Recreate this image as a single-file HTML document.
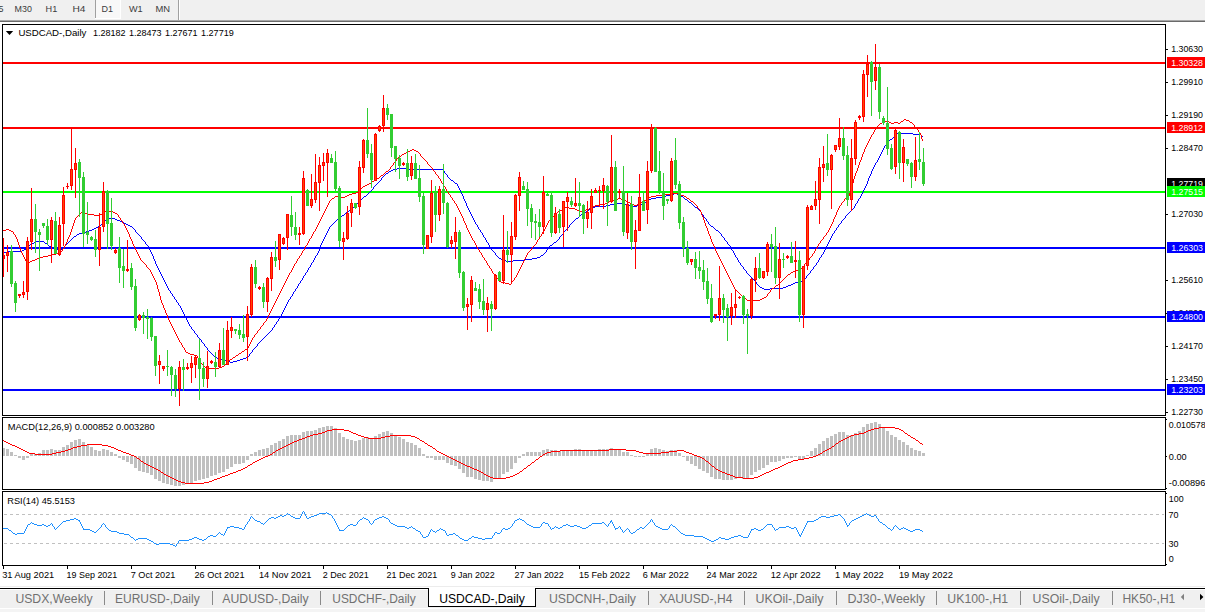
<!DOCTYPE html>
<html lang="en"><head><meta charset="utf-8"><title>USDCAD-,Daily</title>
<style>html,body{margin:0;padding:0;background:#fff}body{width:1205px;height:612px;overflow:hidden}svg{display:block}text{font-family:"Liberation Sans",sans-serif;white-space:pre}</style>
</head><body>
<svg width="1205" height="612" viewBox="0 0 1205 612">
<g shape-rendering="crispEdges">
<rect x="0" y="0" width="1205" height="612" fill="#ffffff"/>
<rect x="0" y="0" width="1205" height="20" fill="#f0f0f0"/>
<rect x="0" y="20" width="1205" height="1" fill="#a8a8a8"/>
<rect x="0" y="21" width="1205" height="1" fill="#6a6a6a"/>
<rect x="96" y="0" width="24" height="18" fill="#f8f8f8"/>
<rect x="95" y="0" width="1" height="18" fill="#a0a0a0"/>
<rect x="120" y="0" width="1" height="19" fill="#ffffff"/>
<rect x="95" y="18" width="26" height="1" fill="#ffffff"/>
<rect x="178" y="0" width="1" height="20" fill="#a0a0a0"/>
<rect x="179" y="0" width="1" height="20" fill="#ffffff"/>
<rect x="2" y="24" width="1164" height="1" fill="#000000"/>
<rect x="2" y="24" width="1" height="542" fill="#000000"/>
<rect x="1165" y="24" width="1" height="542" fill="#000000"/>
<rect x="2" y="415" width="1164" height="1" fill="#000000"/>
<rect x="2" y="417" width="1164" height="1" fill="#000000"/>
<rect x="2" y="489" width="1164" height="1" fill="#000000"/>
<rect x="2" y="491" width="1164" height="1" fill="#000000"/>
<rect x="2" y="565" width="1164" height="1" fill="#000000"/>
<rect x="2" y="416" width="1164" height="1" fill="#ffffff"/>
<rect x="2" y="490" width="1164" height="1" fill="#ffffff"/>
<rect x="3" y="62" width="1162" height="2" fill="#ff0000"/>
<rect x="3" y="127" width="1162" height="2" fill="#ff0000"/>
<rect x="3" y="191" width="1162" height="2" fill="#00ff00"/>
<rect x="3" y="247" width="1162" height="2" fill="#0000ff"/>
<rect x="3" y="316" width="1162" height="2" fill="#0000ff"/>
<rect x="3" y="389" width="1162" height="2" fill="#0000ff"/>
<rect x="4" y="514" width="3" height="1" fill="#c0c0c0"/>
<rect x="10" y="514" width="3" height="1" fill="#c0c0c0"/>
<rect x="16" y="514" width="3" height="1" fill="#c0c0c0"/>
<rect x="22" y="514" width="3" height="1" fill="#c0c0c0"/>
<rect x="28" y="514" width="3" height="1" fill="#c0c0c0"/>
<rect x="34" y="514" width="3" height="1" fill="#c0c0c0"/>
<rect x="40" y="514" width="3" height="1" fill="#c0c0c0"/>
<rect x="46" y="514" width="3" height="1" fill="#c0c0c0"/>
<rect x="52" y="514" width="3" height="1" fill="#c0c0c0"/>
<rect x="58" y="514" width="3" height="1" fill="#c0c0c0"/>
<rect x="64" y="514" width="3" height="1" fill="#c0c0c0"/>
<rect x="70" y="514" width="3" height="1" fill="#c0c0c0"/>
<rect x="76" y="514" width="3" height="1" fill="#c0c0c0"/>
<rect x="82" y="514" width="3" height="1" fill="#c0c0c0"/>
<rect x="88" y="514" width="3" height="1" fill="#c0c0c0"/>
<rect x="94" y="514" width="3" height="1" fill="#c0c0c0"/>
<rect x="100" y="514" width="3" height="1" fill="#c0c0c0"/>
<rect x="106" y="514" width="3" height="1" fill="#c0c0c0"/>
<rect x="112" y="514" width="3" height="1" fill="#c0c0c0"/>
<rect x="118" y="514" width="3" height="1" fill="#c0c0c0"/>
<rect x="124" y="514" width="3" height="1" fill="#c0c0c0"/>
<rect x="130" y="514" width="3" height="1" fill="#c0c0c0"/>
<rect x="136" y="514" width="3" height="1" fill="#c0c0c0"/>
<rect x="142" y="514" width="3" height="1" fill="#c0c0c0"/>
<rect x="148" y="514" width="3" height="1" fill="#c0c0c0"/>
<rect x="154" y="514" width="3" height="1" fill="#c0c0c0"/>
<rect x="160" y="514" width="3" height="1" fill="#c0c0c0"/>
<rect x="166" y="514" width="3" height="1" fill="#c0c0c0"/>
<rect x="172" y="514" width="3" height="1" fill="#c0c0c0"/>
<rect x="178" y="514" width="3" height="1" fill="#c0c0c0"/>
<rect x="184" y="514" width="3" height="1" fill="#c0c0c0"/>
<rect x="190" y="514" width="3" height="1" fill="#c0c0c0"/>
<rect x="196" y="514" width="3" height="1" fill="#c0c0c0"/>
<rect x="202" y="514" width="3" height="1" fill="#c0c0c0"/>
<rect x="208" y="514" width="3" height="1" fill="#c0c0c0"/>
<rect x="214" y="514" width="3" height="1" fill="#c0c0c0"/>
<rect x="220" y="514" width="3" height="1" fill="#c0c0c0"/>
<rect x="226" y="514" width="3" height="1" fill="#c0c0c0"/>
<rect x="232" y="514" width="3" height="1" fill="#c0c0c0"/>
<rect x="238" y="514" width="3" height="1" fill="#c0c0c0"/>
<rect x="244" y="514" width="3" height="1" fill="#c0c0c0"/>
<rect x="250" y="514" width="3" height="1" fill="#c0c0c0"/>
<rect x="256" y="514" width="3" height="1" fill="#c0c0c0"/>
<rect x="262" y="514" width="3" height="1" fill="#c0c0c0"/>
<rect x="268" y="514" width="3" height="1" fill="#c0c0c0"/>
<rect x="274" y="514" width="3" height="1" fill="#c0c0c0"/>
<rect x="280" y="514" width="3" height="1" fill="#c0c0c0"/>
<rect x="286" y="514" width="3" height="1" fill="#c0c0c0"/>
<rect x="292" y="514" width="3" height="1" fill="#c0c0c0"/>
<rect x="298" y="514" width="3" height="1" fill="#c0c0c0"/>
<rect x="304" y="514" width="3" height="1" fill="#c0c0c0"/>
<rect x="310" y="514" width="3" height="1" fill="#c0c0c0"/>
<rect x="316" y="514" width="3" height="1" fill="#c0c0c0"/>
<rect x="322" y="514" width="3" height="1" fill="#c0c0c0"/>
<rect x="328" y="514" width="3" height="1" fill="#c0c0c0"/>
<rect x="334" y="514" width="3" height="1" fill="#c0c0c0"/>
<rect x="340" y="514" width="3" height="1" fill="#c0c0c0"/>
<rect x="346" y="514" width="3" height="1" fill="#c0c0c0"/>
<rect x="352" y="514" width="3" height="1" fill="#c0c0c0"/>
<rect x="358" y="514" width="3" height="1" fill="#c0c0c0"/>
<rect x="364" y="514" width="3" height="1" fill="#c0c0c0"/>
<rect x="370" y="514" width="3" height="1" fill="#c0c0c0"/>
<rect x="376" y="514" width="3" height="1" fill="#c0c0c0"/>
<rect x="382" y="514" width="3" height="1" fill="#c0c0c0"/>
<rect x="388" y="514" width="3" height="1" fill="#c0c0c0"/>
<rect x="394" y="514" width="3" height="1" fill="#c0c0c0"/>
<rect x="400" y="514" width="3" height="1" fill="#c0c0c0"/>
<rect x="406" y="514" width="3" height="1" fill="#c0c0c0"/>
<rect x="412" y="514" width="3" height="1" fill="#c0c0c0"/>
<rect x="418" y="514" width="3" height="1" fill="#c0c0c0"/>
<rect x="424" y="514" width="3" height="1" fill="#c0c0c0"/>
<rect x="430" y="514" width="3" height="1" fill="#c0c0c0"/>
<rect x="436" y="514" width="3" height="1" fill="#c0c0c0"/>
<rect x="442" y="514" width="3" height="1" fill="#c0c0c0"/>
<rect x="448" y="514" width="3" height="1" fill="#c0c0c0"/>
<rect x="454" y="514" width="3" height="1" fill="#c0c0c0"/>
<rect x="460" y="514" width="3" height="1" fill="#c0c0c0"/>
<rect x="466" y="514" width="3" height="1" fill="#c0c0c0"/>
<rect x="472" y="514" width="3" height="1" fill="#c0c0c0"/>
<rect x="478" y="514" width="3" height="1" fill="#c0c0c0"/>
<rect x="484" y="514" width="3" height="1" fill="#c0c0c0"/>
<rect x="490" y="514" width="3" height="1" fill="#c0c0c0"/>
<rect x="496" y="514" width="3" height="1" fill="#c0c0c0"/>
<rect x="502" y="514" width="3" height="1" fill="#c0c0c0"/>
<rect x="508" y="514" width="3" height="1" fill="#c0c0c0"/>
<rect x="514" y="514" width="3" height="1" fill="#c0c0c0"/>
<rect x="520" y="514" width="3" height="1" fill="#c0c0c0"/>
<rect x="526" y="514" width="3" height="1" fill="#c0c0c0"/>
<rect x="532" y="514" width="3" height="1" fill="#c0c0c0"/>
<rect x="538" y="514" width="3" height="1" fill="#c0c0c0"/>
<rect x="544" y="514" width="3" height="1" fill="#c0c0c0"/>
<rect x="550" y="514" width="3" height="1" fill="#c0c0c0"/>
<rect x="556" y="514" width="3" height="1" fill="#c0c0c0"/>
<rect x="562" y="514" width="3" height="1" fill="#c0c0c0"/>
<rect x="568" y="514" width="3" height="1" fill="#c0c0c0"/>
<rect x="574" y="514" width="3" height="1" fill="#c0c0c0"/>
<rect x="580" y="514" width="3" height="1" fill="#c0c0c0"/>
<rect x="586" y="514" width="3" height="1" fill="#c0c0c0"/>
<rect x="592" y="514" width="3" height="1" fill="#c0c0c0"/>
<rect x="598" y="514" width="3" height="1" fill="#c0c0c0"/>
<rect x="604" y="514" width="3" height="1" fill="#c0c0c0"/>
<rect x="610" y="514" width="3" height="1" fill="#c0c0c0"/>
<rect x="616" y="514" width="3" height="1" fill="#c0c0c0"/>
<rect x="622" y="514" width="3" height="1" fill="#c0c0c0"/>
<rect x="628" y="514" width="3" height="1" fill="#c0c0c0"/>
<rect x="634" y="514" width="3" height="1" fill="#c0c0c0"/>
<rect x="640" y="514" width="3" height="1" fill="#c0c0c0"/>
<rect x="646" y="514" width="3" height="1" fill="#c0c0c0"/>
<rect x="652" y="514" width="3" height="1" fill="#c0c0c0"/>
<rect x="658" y="514" width="3" height="1" fill="#c0c0c0"/>
<rect x="664" y="514" width="3" height="1" fill="#c0c0c0"/>
<rect x="670" y="514" width="3" height="1" fill="#c0c0c0"/>
<rect x="676" y="514" width="3" height="1" fill="#c0c0c0"/>
<rect x="682" y="514" width="3" height="1" fill="#c0c0c0"/>
<rect x="688" y="514" width="3" height="1" fill="#c0c0c0"/>
<rect x="694" y="514" width="3" height="1" fill="#c0c0c0"/>
<rect x="700" y="514" width="3" height="1" fill="#c0c0c0"/>
<rect x="706" y="514" width="3" height="1" fill="#c0c0c0"/>
<rect x="712" y="514" width="3" height="1" fill="#c0c0c0"/>
<rect x="718" y="514" width="3" height="1" fill="#c0c0c0"/>
<rect x="724" y="514" width="3" height="1" fill="#c0c0c0"/>
<rect x="730" y="514" width="3" height="1" fill="#c0c0c0"/>
<rect x="736" y="514" width="3" height="1" fill="#c0c0c0"/>
<rect x="742" y="514" width="3" height="1" fill="#c0c0c0"/>
<rect x="748" y="514" width="3" height="1" fill="#c0c0c0"/>
<rect x="754" y="514" width="3" height="1" fill="#c0c0c0"/>
<rect x="760" y="514" width="3" height="1" fill="#c0c0c0"/>
<rect x="766" y="514" width="3" height="1" fill="#c0c0c0"/>
<rect x="772" y="514" width="3" height="1" fill="#c0c0c0"/>
<rect x="778" y="514" width="3" height="1" fill="#c0c0c0"/>
<rect x="784" y="514" width="3" height="1" fill="#c0c0c0"/>
<rect x="790" y="514" width="3" height="1" fill="#c0c0c0"/>
<rect x="796" y="514" width="3" height="1" fill="#c0c0c0"/>
<rect x="802" y="514" width="3" height="1" fill="#c0c0c0"/>
<rect x="808" y="514" width="3" height="1" fill="#c0c0c0"/>
<rect x="814" y="514" width="3" height="1" fill="#c0c0c0"/>
<rect x="820" y="514" width="3" height="1" fill="#c0c0c0"/>
<rect x="826" y="514" width="3" height="1" fill="#c0c0c0"/>
<rect x="832" y="514" width="3" height="1" fill="#c0c0c0"/>
<rect x="838" y="514" width="3" height="1" fill="#c0c0c0"/>
<rect x="844" y="514" width="3" height="1" fill="#c0c0c0"/>
<rect x="850" y="514" width="3" height="1" fill="#c0c0c0"/>
<rect x="856" y="514" width="3" height="1" fill="#c0c0c0"/>
<rect x="862" y="514" width="3" height="1" fill="#c0c0c0"/>
<rect x="868" y="514" width="3" height="1" fill="#c0c0c0"/>
<rect x="874" y="514" width="3" height="1" fill="#c0c0c0"/>
<rect x="880" y="514" width="3" height="1" fill="#c0c0c0"/>
<rect x="886" y="514" width="3" height="1" fill="#c0c0c0"/>
<rect x="892" y="514" width="3" height="1" fill="#c0c0c0"/>
<rect x="898" y="514" width="3" height="1" fill="#c0c0c0"/>
<rect x="904" y="514" width="3" height="1" fill="#c0c0c0"/>
<rect x="910" y="514" width="3" height="1" fill="#c0c0c0"/>
<rect x="916" y="514" width="3" height="1" fill="#c0c0c0"/>
<rect x="922" y="514" width="3" height="1" fill="#c0c0c0"/>
<rect x="928" y="514" width="3" height="1" fill="#c0c0c0"/>
<rect x="934" y="514" width="3" height="1" fill="#c0c0c0"/>
<rect x="940" y="514" width="3" height="1" fill="#c0c0c0"/>
<rect x="946" y="514" width="3" height="1" fill="#c0c0c0"/>
<rect x="952" y="514" width="3" height="1" fill="#c0c0c0"/>
<rect x="958" y="514" width="3" height="1" fill="#c0c0c0"/>
<rect x="964" y="514" width="3" height="1" fill="#c0c0c0"/>
<rect x="970" y="514" width="3" height="1" fill="#c0c0c0"/>
<rect x="976" y="514" width="3" height="1" fill="#c0c0c0"/>
<rect x="982" y="514" width="3" height="1" fill="#c0c0c0"/>
<rect x="988" y="514" width="3" height="1" fill="#c0c0c0"/>
<rect x="994" y="514" width="3" height="1" fill="#c0c0c0"/>
<rect x="1000" y="514" width="3" height="1" fill="#c0c0c0"/>
<rect x="1006" y="514" width="3" height="1" fill="#c0c0c0"/>
<rect x="1012" y="514" width="3" height="1" fill="#c0c0c0"/>
<rect x="1018" y="514" width="3" height="1" fill="#c0c0c0"/>
<rect x="1024" y="514" width="3" height="1" fill="#c0c0c0"/>
<rect x="1030" y="514" width="3" height="1" fill="#c0c0c0"/>
<rect x="1036" y="514" width="3" height="1" fill="#c0c0c0"/>
<rect x="1042" y="514" width="3" height="1" fill="#c0c0c0"/>
<rect x="1048" y="514" width="3" height="1" fill="#c0c0c0"/>
<rect x="1054" y="514" width="3" height="1" fill="#c0c0c0"/>
<rect x="1060" y="514" width="3" height="1" fill="#c0c0c0"/>
<rect x="1066" y="514" width="3" height="1" fill="#c0c0c0"/>
<rect x="1072" y="514" width="3" height="1" fill="#c0c0c0"/>
<rect x="1078" y="514" width="3" height="1" fill="#c0c0c0"/>
<rect x="1084" y="514" width="3" height="1" fill="#c0c0c0"/>
<rect x="1090" y="514" width="3" height="1" fill="#c0c0c0"/>
<rect x="1096" y="514" width="3" height="1" fill="#c0c0c0"/>
<rect x="1102" y="514" width="3" height="1" fill="#c0c0c0"/>
<rect x="1108" y="514" width="3" height="1" fill="#c0c0c0"/>
<rect x="1114" y="514" width="3" height="1" fill="#c0c0c0"/>
<rect x="1120" y="514" width="3" height="1" fill="#c0c0c0"/>
<rect x="1126" y="514" width="3" height="1" fill="#c0c0c0"/>
<rect x="1132" y="514" width="3" height="1" fill="#c0c0c0"/>
<rect x="1138" y="514" width="3" height="1" fill="#c0c0c0"/>
<rect x="1144" y="514" width="3" height="1" fill="#c0c0c0"/>
<rect x="1150" y="514" width="3" height="1" fill="#c0c0c0"/>
<rect x="1156" y="514" width="3" height="1" fill="#c0c0c0"/>
<rect x="1162" y="514" width="2" height="1" fill="#c0c0c0"/>
<rect x="4" y="543" width="3" height="1" fill="#c0c0c0"/>
<rect x="10" y="543" width="3" height="1" fill="#c0c0c0"/>
<rect x="16" y="543" width="3" height="1" fill="#c0c0c0"/>
<rect x="22" y="543" width="3" height="1" fill="#c0c0c0"/>
<rect x="28" y="543" width="3" height="1" fill="#c0c0c0"/>
<rect x="34" y="543" width="3" height="1" fill="#c0c0c0"/>
<rect x="40" y="543" width="3" height="1" fill="#c0c0c0"/>
<rect x="46" y="543" width="3" height="1" fill="#c0c0c0"/>
<rect x="52" y="543" width="3" height="1" fill="#c0c0c0"/>
<rect x="58" y="543" width="3" height="1" fill="#c0c0c0"/>
<rect x="64" y="543" width="3" height="1" fill="#c0c0c0"/>
<rect x="70" y="543" width="3" height="1" fill="#c0c0c0"/>
<rect x="76" y="543" width="3" height="1" fill="#c0c0c0"/>
<rect x="82" y="543" width="3" height="1" fill="#c0c0c0"/>
<rect x="88" y="543" width="3" height="1" fill="#c0c0c0"/>
<rect x="94" y="543" width="3" height="1" fill="#c0c0c0"/>
<rect x="100" y="543" width="3" height="1" fill="#c0c0c0"/>
<rect x="106" y="543" width="3" height="1" fill="#c0c0c0"/>
<rect x="112" y="543" width="3" height="1" fill="#c0c0c0"/>
<rect x="118" y="543" width="3" height="1" fill="#c0c0c0"/>
<rect x="124" y="543" width="3" height="1" fill="#c0c0c0"/>
<rect x="130" y="543" width="3" height="1" fill="#c0c0c0"/>
<rect x="136" y="543" width="3" height="1" fill="#c0c0c0"/>
<rect x="142" y="543" width="3" height="1" fill="#c0c0c0"/>
<rect x="148" y="543" width="3" height="1" fill="#c0c0c0"/>
<rect x="154" y="543" width="3" height="1" fill="#c0c0c0"/>
<rect x="160" y="543" width="3" height="1" fill="#c0c0c0"/>
<rect x="166" y="543" width="3" height="1" fill="#c0c0c0"/>
<rect x="172" y="543" width="3" height="1" fill="#c0c0c0"/>
<rect x="178" y="543" width="3" height="1" fill="#c0c0c0"/>
<rect x="184" y="543" width="3" height="1" fill="#c0c0c0"/>
<rect x="190" y="543" width="3" height="1" fill="#c0c0c0"/>
<rect x="196" y="543" width="3" height="1" fill="#c0c0c0"/>
<rect x="202" y="543" width="3" height="1" fill="#c0c0c0"/>
<rect x="208" y="543" width="3" height="1" fill="#c0c0c0"/>
<rect x="214" y="543" width="3" height="1" fill="#c0c0c0"/>
<rect x="220" y="543" width="3" height="1" fill="#c0c0c0"/>
<rect x="226" y="543" width="3" height="1" fill="#c0c0c0"/>
<rect x="232" y="543" width="3" height="1" fill="#c0c0c0"/>
<rect x="238" y="543" width="3" height="1" fill="#c0c0c0"/>
<rect x="244" y="543" width="3" height="1" fill="#c0c0c0"/>
<rect x="250" y="543" width="3" height="1" fill="#c0c0c0"/>
<rect x="256" y="543" width="3" height="1" fill="#c0c0c0"/>
<rect x="262" y="543" width="3" height="1" fill="#c0c0c0"/>
<rect x="268" y="543" width="3" height="1" fill="#c0c0c0"/>
<rect x="274" y="543" width="3" height="1" fill="#c0c0c0"/>
<rect x="280" y="543" width="3" height="1" fill="#c0c0c0"/>
<rect x="286" y="543" width="3" height="1" fill="#c0c0c0"/>
<rect x="292" y="543" width="3" height="1" fill="#c0c0c0"/>
<rect x="298" y="543" width="3" height="1" fill="#c0c0c0"/>
<rect x="304" y="543" width="3" height="1" fill="#c0c0c0"/>
<rect x="310" y="543" width="3" height="1" fill="#c0c0c0"/>
<rect x="316" y="543" width="3" height="1" fill="#c0c0c0"/>
<rect x="322" y="543" width="3" height="1" fill="#c0c0c0"/>
<rect x="328" y="543" width="3" height="1" fill="#c0c0c0"/>
<rect x="334" y="543" width="3" height="1" fill="#c0c0c0"/>
<rect x="340" y="543" width="3" height="1" fill="#c0c0c0"/>
<rect x="346" y="543" width="3" height="1" fill="#c0c0c0"/>
<rect x="352" y="543" width="3" height="1" fill="#c0c0c0"/>
<rect x="358" y="543" width="3" height="1" fill="#c0c0c0"/>
<rect x="364" y="543" width="3" height="1" fill="#c0c0c0"/>
<rect x="370" y="543" width="3" height="1" fill="#c0c0c0"/>
<rect x="376" y="543" width="3" height="1" fill="#c0c0c0"/>
<rect x="382" y="543" width="3" height="1" fill="#c0c0c0"/>
<rect x="388" y="543" width="3" height="1" fill="#c0c0c0"/>
<rect x="394" y="543" width="3" height="1" fill="#c0c0c0"/>
<rect x="400" y="543" width="3" height="1" fill="#c0c0c0"/>
<rect x="406" y="543" width="3" height="1" fill="#c0c0c0"/>
<rect x="412" y="543" width="3" height="1" fill="#c0c0c0"/>
<rect x="418" y="543" width="3" height="1" fill="#c0c0c0"/>
<rect x="424" y="543" width="3" height="1" fill="#c0c0c0"/>
<rect x="430" y="543" width="3" height="1" fill="#c0c0c0"/>
<rect x="436" y="543" width="3" height="1" fill="#c0c0c0"/>
<rect x="442" y="543" width="3" height="1" fill="#c0c0c0"/>
<rect x="448" y="543" width="3" height="1" fill="#c0c0c0"/>
<rect x="454" y="543" width="3" height="1" fill="#c0c0c0"/>
<rect x="460" y="543" width="3" height="1" fill="#c0c0c0"/>
<rect x="466" y="543" width="3" height="1" fill="#c0c0c0"/>
<rect x="472" y="543" width="3" height="1" fill="#c0c0c0"/>
<rect x="478" y="543" width="3" height="1" fill="#c0c0c0"/>
<rect x="484" y="543" width="3" height="1" fill="#c0c0c0"/>
<rect x="490" y="543" width="3" height="1" fill="#c0c0c0"/>
<rect x="496" y="543" width="3" height="1" fill="#c0c0c0"/>
<rect x="502" y="543" width="3" height="1" fill="#c0c0c0"/>
<rect x="508" y="543" width="3" height="1" fill="#c0c0c0"/>
<rect x="514" y="543" width="3" height="1" fill="#c0c0c0"/>
<rect x="520" y="543" width="3" height="1" fill="#c0c0c0"/>
<rect x="526" y="543" width="3" height="1" fill="#c0c0c0"/>
<rect x="532" y="543" width="3" height="1" fill="#c0c0c0"/>
<rect x="538" y="543" width="3" height="1" fill="#c0c0c0"/>
<rect x="544" y="543" width="3" height="1" fill="#c0c0c0"/>
<rect x="550" y="543" width="3" height="1" fill="#c0c0c0"/>
<rect x="556" y="543" width="3" height="1" fill="#c0c0c0"/>
<rect x="562" y="543" width="3" height="1" fill="#c0c0c0"/>
<rect x="568" y="543" width="3" height="1" fill="#c0c0c0"/>
<rect x="574" y="543" width="3" height="1" fill="#c0c0c0"/>
<rect x="580" y="543" width="3" height="1" fill="#c0c0c0"/>
<rect x="586" y="543" width="3" height="1" fill="#c0c0c0"/>
<rect x="592" y="543" width="3" height="1" fill="#c0c0c0"/>
<rect x="598" y="543" width="3" height="1" fill="#c0c0c0"/>
<rect x="604" y="543" width="3" height="1" fill="#c0c0c0"/>
<rect x="610" y="543" width="3" height="1" fill="#c0c0c0"/>
<rect x="616" y="543" width="3" height="1" fill="#c0c0c0"/>
<rect x="622" y="543" width="3" height="1" fill="#c0c0c0"/>
<rect x="628" y="543" width="3" height="1" fill="#c0c0c0"/>
<rect x="634" y="543" width="3" height="1" fill="#c0c0c0"/>
<rect x="640" y="543" width="3" height="1" fill="#c0c0c0"/>
<rect x="646" y="543" width="3" height="1" fill="#c0c0c0"/>
<rect x="652" y="543" width="3" height="1" fill="#c0c0c0"/>
<rect x="658" y="543" width="3" height="1" fill="#c0c0c0"/>
<rect x="664" y="543" width="3" height="1" fill="#c0c0c0"/>
<rect x="670" y="543" width="3" height="1" fill="#c0c0c0"/>
<rect x="676" y="543" width="3" height="1" fill="#c0c0c0"/>
<rect x="682" y="543" width="3" height="1" fill="#c0c0c0"/>
<rect x="688" y="543" width="3" height="1" fill="#c0c0c0"/>
<rect x="694" y="543" width="3" height="1" fill="#c0c0c0"/>
<rect x="700" y="543" width="3" height="1" fill="#c0c0c0"/>
<rect x="706" y="543" width="3" height="1" fill="#c0c0c0"/>
<rect x="712" y="543" width="3" height="1" fill="#c0c0c0"/>
<rect x="718" y="543" width="3" height="1" fill="#c0c0c0"/>
<rect x="724" y="543" width="3" height="1" fill="#c0c0c0"/>
<rect x="730" y="543" width="3" height="1" fill="#c0c0c0"/>
<rect x="736" y="543" width="3" height="1" fill="#c0c0c0"/>
<rect x="742" y="543" width="3" height="1" fill="#c0c0c0"/>
<rect x="748" y="543" width="3" height="1" fill="#c0c0c0"/>
<rect x="754" y="543" width="3" height="1" fill="#c0c0c0"/>
<rect x="760" y="543" width="3" height="1" fill="#c0c0c0"/>
<rect x="766" y="543" width="3" height="1" fill="#c0c0c0"/>
<rect x="772" y="543" width="3" height="1" fill="#c0c0c0"/>
<rect x="778" y="543" width="3" height="1" fill="#c0c0c0"/>
<rect x="784" y="543" width="3" height="1" fill="#c0c0c0"/>
<rect x="790" y="543" width="3" height="1" fill="#c0c0c0"/>
<rect x="796" y="543" width="3" height="1" fill="#c0c0c0"/>
<rect x="802" y="543" width="3" height="1" fill="#c0c0c0"/>
<rect x="808" y="543" width="3" height="1" fill="#c0c0c0"/>
<rect x="814" y="543" width="3" height="1" fill="#c0c0c0"/>
<rect x="820" y="543" width="3" height="1" fill="#c0c0c0"/>
<rect x="826" y="543" width="3" height="1" fill="#c0c0c0"/>
<rect x="832" y="543" width="3" height="1" fill="#c0c0c0"/>
<rect x="838" y="543" width="3" height="1" fill="#c0c0c0"/>
<rect x="844" y="543" width="3" height="1" fill="#c0c0c0"/>
<rect x="850" y="543" width="3" height="1" fill="#c0c0c0"/>
<rect x="856" y="543" width="3" height="1" fill="#c0c0c0"/>
<rect x="862" y="543" width="3" height="1" fill="#c0c0c0"/>
<rect x="868" y="543" width="3" height="1" fill="#c0c0c0"/>
<rect x="874" y="543" width="3" height="1" fill="#c0c0c0"/>
<rect x="880" y="543" width="3" height="1" fill="#c0c0c0"/>
<rect x="886" y="543" width="3" height="1" fill="#c0c0c0"/>
<rect x="892" y="543" width="3" height="1" fill="#c0c0c0"/>
<rect x="898" y="543" width="3" height="1" fill="#c0c0c0"/>
<rect x="904" y="543" width="3" height="1" fill="#c0c0c0"/>
<rect x="910" y="543" width="3" height="1" fill="#c0c0c0"/>
<rect x="916" y="543" width="3" height="1" fill="#c0c0c0"/>
<rect x="922" y="543" width="3" height="1" fill="#c0c0c0"/>
<rect x="928" y="543" width="3" height="1" fill="#c0c0c0"/>
<rect x="934" y="543" width="3" height="1" fill="#c0c0c0"/>
<rect x="940" y="543" width="3" height="1" fill="#c0c0c0"/>
<rect x="946" y="543" width="3" height="1" fill="#c0c0c0"/>
<rect x="952" y="543" width="3" height="1" fill="#c0c0c0"/>
<rect x="958" y="543" width="3" height="1" fill="#c0c0c0"/>
<rect x="964" y="543" width="3" height="1" fill="#c0c0c0"/>
<rect x="970" y="543" width="3" height="1" fill="#c0c0c0"/>
<rect x="976" y="543" width="3" height="1" fill="#c0c0c0"/>
<rect x="982" y="543" width="3" height="1" fill="#c0c0c0"/>
<rect x="988" y="543" width="3" height="1" fill="#c0c0c0"/>
<rect x="994" y="543" width="3" height="1" fill="#c0c0c0"/>
<rect x="1000" y="543" width="3" height="1" fill="#c0c0c0"/>
<rect x="1006" y="543" width="3" height="1" fill="#c0c0c0"/>
<rect x="1012" y="543" width="3" height="1" fill="#c0c0c0"/>
<rect x="1018" y="543" width="3" height="1" fill="#c0c0c0"/>
<rect x="1024" y="543" width="3" height="1" fill="#c0c0c0"/>
<rect x="1030" y="543" width="3" height="1" fill="#c0c0c0"/>
<rect x="1036" y="543" width="3" height="1" fill="#c0c0c0"/>
<rect x="1042" y="543" width="3" height="1" fill="#c0c0c0"/>
<rect x="1048" y="543" width="3" height="1" fill="#c0c0c0"/>
<rect x="1054" y="543" width="3" height="1" fill="#c0c0c0"/>
<rect x="1060" y="543" width="3" height="1" fill="#c0c0c0"/>
<rect x="1066" y="543" width="3" height="1" fill="#c0c0c0"/>
<rect x="1072" y="543" width="3" height="1" fill="#c0c0c0"/>
<rect x="1078" y="543" width="3" height="1" fill="#c0c0c0"/>
<rect x="1084" y="543" width="3" height="1" fill="#c0c0c0"/>
<rect x="1090" y="543" width="3" height="1" fill="#c0c0c0"/>
<rect x="1096" y="543" width="3" height="1" fill="#c0c0c0"/>
<rect x="1102" y="543" width="3" height="1" fill="#c0c0c0"/>
<rect x="1108" y="543" width="3" height="1" fill="#c0c0c0"/>
<rect x="1114" y="543" width="3" height="1" fill="#c0c0c0"/>
<rect x="1120" y="543" width="3" height="1" fill="#c0c0c0"/>
<rect x="1126" y="543" width="3" height="1" fill="#c0c0c0"/>
<rect x="1132" y="543" width="3" height="1" fill="#c0c0c0"/>
<rect x="1138" y="543" width="3" height="1" fill="#c0c0c0"/>
<rect x="1144" y="543" width="3" height="1" fill="#c0c0c0"/>
<rect x="1150" y="543" width="3" height="1" fill="#c0c0c0"/>
<rect x="1156" y="543" width="3" height="1" fill="#c0c0c0"/>
<rect x="1162" y="543" width="2" height="1" fill="#c0c0c0"/>
<path d="M897 133h16v1h-16zM896 134h1v1h-1zM913 134h8v1h-8zM895 135h1v1h-1zM921 135h1v1h-1zM894 136h1v1h-1zM922 136h1v1h-1zM893 137h1v1h-1zM892 138h1v1h-1zM890 139h2v1h-2zM889 140h1v1h-1zM888 141h1v1h-1zM887 142h1v1h-1zM886 143h1v1h-1zM886 144h1v1h-1zM885 145h1v1h-1zM884 146h1v1h-1zM884 147h1v1h-1zM883 148h1v1h-1zM883 149h1v1h-1zM882 150h1v1h-1zM882 151h1v1h-1zM881 152h1v1h-1zM881 153h1v1h-1zM880 154h1v1h-1zM880 155h1v1h-1zM879 156h1v1h-1zM879 157h1v1h-1zM878 158h1v1h-1zM878 159h1v1h-1zM877 160h1v1h-1zM877 161h1v1h-1zM876 162h1v1h-1zM875 163h1v1h-1zM875 164h1v1h-1zM874 165h1v1h-1zM874 166h1v1h-1zM873 167h1v1h-1zM397 168h12v1h-12zM873 168h1v1h-1zM393 169h4v1h-4zM409 169h34v1h-34zM872 169h1v1h-1zM391 170h2v1h-2zM443 170h1v1h-1zM872 170h1v1h-1zM389 171h2v1h-2zM444 171h1v1h-1zM871 171h1v1h-1zM388 172h1v1h-1zM444 172h1v1h-1zM871 172h1v1h-1zM386 173h2v1h-2zM445 173h1v1h-1zM871 173h1v1h-1zM385 174h1v1h-1zM446 174h1v1h-1zM870 174h1v1h-1zM384 175h1v1h-1zM447 175h1v1h-1zM870 175h1v1h-1zM383 176h1v1h-1zM447 176h1v1h-1zM869 176h1v1h-1zM382 177h1v1h-1zM448 177h1v1h-1zM869 177h1v1h-1zM381 178h1v1h-1zM449 178h1v1h-1zM868 178h1v1h-1zM381 179h1v1h-1zM450 179h1v1h-1zM868 179h1v1h-1zM380 180h1v1h-1zM451 180h2v1h-2zM868 180h1v1h-1zM379 181h1v1h-1zM453 181h1v1h-1zM867 181h1v1h-1zM378 182h1v1h-1zM454 182h1v1h-1zM867 182h1v1h-1zM377 183h1v1h-1zM455 183h2v1h-2zM867 183h1v1h-1zM376 184h1v1h-1zM457 184h1v1h-1zM866 184h1v1h-1zM375 185h1v1h-1zM457 185h1v1h-1zM866 185h1v1h-1zM374 186h1v1h-1zM458 186h1v1h-1zM865 186h1v1h-1zM373 187h1v1h-1zM458 187h1v1h-1zM865 187h1v1h-1zM373 188h1v1h-1zM459 188h1v1h-1zM864 188h1v1h-1zM372 189h1v1h-1zM459 189h1v1h-1zM864 189h1v1h-1zM371 190h1v1h-1zM460 190h1v1h-1zM863 190h1v1h-1zM370 191h1v1h-1zM460 191h1v1h-1zM863 191h1v1h-1zM369 192h1v1h-1zM461 192h1v1h-1zM862 192h1v1h-1zM368 193h1v1h-1zM461 193h1v1h-1zM674 193h3v1h-3zM862 193h1v1h-1zM367 194h1v1h-1zM462 194h1v1h-1zM670 194h4v1h-4zM677 194h2v1h-2zM861 194h1v1h-1zM366 195h1v1h-1zM462 195h1v1h-1zM666 195h4v1h-4zM679 195h2v1h-2zM861 195h1v1h-1zM364 196h2v1h-2zM463 196h1v1h-1zM662 196h4v1h-4zM681 196h2v1h-2zM860 196h1v1h-1zM363 197h1v1h-1zM463 197h1v1h-1zM656 197h6v1h-6zM683 197h1v1h-1zM860 197h1v1h-1zM362 198h1v1h-1zM463 198h1v1h-1zM651 198h5v1h-5zM684 198h1v1h-1zM859 198h1v1h-1zM361 199h1v1h-1zM464 199h1v1h-1zM649 199h2v1h-2zM685 199h2v1h-2zM858 199h1v1h-1zM360 200h1v1h-1zM464 200h1v1h-1zM648 200h1v1h-1zM687 200h1v1h-1zM858 200h1v1h-1zM359 201h1v1h-1zM465 201h1v1h-1zM646 201h2v1h-2zM688 201h1v1h-1zM857 201h1v1h-1zM358 202h1v1h-1zM465 202h1v1h-1zM644 202h2v1h-2zM689 202h2v1h-2zM857 202h1v1h-1zM357 203h1v1h-1zM466 203h1v1h-1zM616 203h7v1h-7zM642 203h2v1h-2zM691 203h1v1h-1zM856 203h1v1h-1zM356 204h1v1h-1zM466 204h1v1h-1zM610 204h6v1h-6zM623 204h6v1h-6zM640 204h2v1h-2zM692 204h1v1h-1zM855 204h1v1h-1zM355 205h1v1h-1zM466 205h1v1h-1zM606 205h4v1h-4zM629 205h4v1h-4zM637 205h3v1h-3zM693 205h1v1h-1zM855 205h1v1h-1zM354 206h1v1h-1zM467 206h1v1h-1zM595 206h11v1h-11zM633 206h4v1h-4zM694 206h1v1h-1zM854 206h1v1h-1zM353 207h1v1h-1zM467 207h1v1h-1zM593 207h2v1h-2zM695 207h2v1h-2zM854 207h1v1h-1zM352 208h1v1h-1zM468 208h1v1h-1zM591 208h2v1h-2zM697 208h1v1h-1zM853 208h1v1h-1zM350 209h2v1h-2zM468 209h1v1h-1zM589 209h2v1h-2zM698 209h1v1h-1zM852 209h1v1h-1zM349 210h1v1h-1zM469 210h1v1h-1zM587 210h2v1h-2zM699 210h1v1h-1zM851 210h1v1h-1zM348 211h1v1h-1zM469 211h1v1h-1zM586 211h1v1h-1zM700 211h1v1h-1zM850 211h1v1h-1zM346 212h2v1h-2zM470 212h1v1h-1zM584 212h2v1h-2zM701 212h1v1h-1zM849 212h1v1h-1zM345 213h1v1h-1zM470 213h1v1h-1zM582 213h2v1h-2zM701 213h1v1h-1zM848 213h1v1h-1zM344 214h1v1h-1zM471 214h1v1h-1zM581 214h1v1h-1zM702 214h1v1h-1zM847 214h1v1h-1zM342 215h2v1h-2zM471 215h1v1h-1zM580 215h1v1h-1zM703 215h1v1h-1zM846 215h1v1h-1zM341 216h1v1h-1zM472 216h1v1h-1zM579 216h1v1h-1zM703 216h1v1h-1zM845 216h1v1h-1zM340 217h1v1h-1zM472 217h1v1h-1zM578 217h1v1h-1zM704 217h1v1h-1zM845 217h1v1h-1zM107 218h8v1h-8zM338 218h2v1h-2zM473 218h1v1h-1zM576 218h2v1h-2zM705 218h1v1h-1zM844 218h1v1h-1zM106 219h1v1h-1zM115 219h2v1h-2zM337 219h1v1h-1zM473 219h1v1h-1zM575 219h1v1h-1zM706 219h1v1h-1zM843 219h1v1h-1zM105 220h1v1h-1zM117 220h3v1h-3zM336 220h1v1h-1zM474 220h1v1h-1zM574 220h1v1h-1zM706 220h1v1h-1zM842 220h1v1h-1zM104 221h1v1h-1zM120 221h2v1h-2zM335 221h1v1h-1zM474 221h1v1h-1zM573 221h1v1h-1zM707 221h1v1h-1zM841 221h1v1h-1zM103 222h1v1h-1zM122 222h2v1h-2zM334 222h1v1h-1zM475 222h1v1h-1zM572 222h1v1h-1zM708 222h1v1h-1zM841 222h1v1h-1zM102 223h1v1h-1zM124 223h2v1h-2zM333 223h1v1h-1zM475 223h1v1h-1zM571 223h1v1h-1zM708 223h1v1h-1zM840 223h1v1h-1zM101 224h1v1h-1zM126 224h2v1h-2zM332 224h1v1h-1zM476 224h1v1h-1zM570 224h1v1h-1zM709 224h1v1h-1zM839 224h1v1h-1zM99 225h2v1h-2zM128 225h2v1h-2zM331 225h1v1h-1zM477 225h1v1h-1zM569 225h1v1h-1zM710 225h1v1h-1zM838 225h1v1h-1zM98 226h1v1h-1zM130 226h2v1h-2zM330 226h1v1h-1zM477 226h1v1h-1zM569 226h1v1h-1zM711 226h2v1h-2zM838 226h1v1h-1zM96 227h2v1h-2zM132 227h1v1h-1zM329 227h1v1h-1zM478 227h1v1h-1zM568 227h1v1h-1zM713 227h1v1h-1zM837 227h1v1h-1zM94 228h2v1h-2zM133 228h1v1h-1zM329 228h1v1h-1zM478 228h1v1h-1zM567 228h1v1h-1zM714 228h1v1h-1zM836 228h1v1h-1zM92 229h2v1h-2zM134 229h1v1h-1zM328 229h1v1h-1zM479 229h1v1h-1zM566 229h1v1h-1zM715 229h1v1h-1zM836 229h1v1h-1zM89 230h3v1h-3zM135 230h1v1h-1zM328 230h1v1h-1zM480 230h1v1h-1zM565 230h1v1h-1zM716 230h2v1h-2zM835 230h1v1h-1zM86 231h3v1h-3zM135 231h1v1h-1zM327 231h1v1h-1zM480 231h1v1h-1zM564 231h1v1h-1zM718 231h1v1h-1zM834 231h1v1h-1zM82 232h4v1h-4zM136 232h1v1h-1zM327 232h1v1h-1zM481 232h1v1h-1zM563 232h1v1h-1zM719 232h1v1h-1zM834 232h1v1h-1zM79 233h3v1h-3zM137 233h1v1h-1zM326 233h1v1h-1zM482 233h1v1h-1zM563 233h1v1h-1zM720 233h1v1h-1zM833 233h1v1h-1zM77 234h2v1h-2zM138 234h1v1h-1zM326 234h1v1h-1zM482 234h1v1h-1zM562 234h1v1h-1zM721 234h1v1h-1zM832 234h1v1h-1zM76 235h1v1h-1zM139 235h1v1h-1zM325 235h1v1h-1zM483 235h1v1h-1zM561 235h1v1h-1zM721 235h1v1h-1zM832 235h1v1h-1zM74 236h2v1h-2zM140 236h1v1h-1zM325 236h1v1h-1zM483 236h1v1h-1zM560 236h1v1h-1zM722 236h1v1h-1zM831 236h1v1h-1zM73 237h1v1h-1zM141 237h1v1h-1zM324 237h1v1h-1zM484 237h1v1h-1zM559 237h1v1h-1zM723 237h1v1h-1zM831 237h1v1h-1zM72 238h1v1h-1zM141 238h1v1h-1zM324 238h1v1h-1zM485 238h1v1h-1zM559 238h1v1h-1zM724 238h1v1h-1zM830 238h1v1h-1zM71 239h1v1h-1zM142 239h1v1h-1zM323 239h1v1h-1zM485 239h1v1h-1zM558 239h1v1h-1zM724 239h1v1h-1zM830 239h1v1h-1zM70 240h1v1h-1zM143 240h1v1h-1zM323 240h1v1h-1zM486 240h1v1h-1zM557 240h1v1h-1zM725 240h1v1h-1zM829 240h1v1h-1zM36 241h8v1h-8zM69 241h1v1h-1zM144 241h1v1h-1zM322 241h1v1h-1zM486 241h1v1h-1zM556 241h1v1h-1zM726 241h1v1h-1zM829 241h1v1h-1zM34 242h2v1h-2zM44 242h1v1h-1zM68 242h1v1h-1zM145 242h1v1h-1zM322 242h1v1h-1zM487 242h1v1h-1zM554 242h2v1h-2zM727 242h1v1h-1zM828 242h1v1h-1zM32 243h2v1h-2zM45 243h2v1h-2zM67 243h1v1h-1zM145 243h1v1h-1zM321 243h1v1h-1zM488 243h1v1h-1zM553 243h1v1h-1zM727 243h1v1h-1zM828 243h1v1h-1zM30 244h2v1h-2zM47 244h1v1h-1zM66 244h1v1h-1zM146 244h1v1h-1zM321 244h1v1h-1zM488 244h1v1h-1zM552 244h1v1h-1zM728 244h1v1h-1zM827 244h1v1h-1zM29 245h1v1h-1zM48 245h1v1h-1zM65 245h1v1h-1zM147 245h1v1h-1zM320 245h1v1h-1zM489 245h1v1h-1zM550 245h2v1h-2zM729 245h1v1h-1zM827 245h1v1h-1zM28 246h1v1h-1zM49 246h2v1h-2zM64 246h1v1h-1zM148 246h1v1h-1zM320 246h1v1h-1zM489 246h1v1h-1zM549 246h1v1h-1zM730 246h1v1h-1zM826 246h1v1h-1zM27 247h1v1h-1zM51 247h1v1h-1zM63 247h1v1h-1zM148 247h1v1h-1zM320 247h1v1h-1zM490 247h1v1h-1zM548 247h1v1h-1zM730 247h1v1h-1zM826 247h1v1h-1zM26 248h1v1h-1zM52 248h2v1h-2zM62 248h1v1h-1zM149 248h1v1h-1zM320 248h1v1h-1zM490 248h1v1h-1zM548 248h1v1h-1zM731 248h1v1h-1zM825 248h1v1h-1zM24 249h2v1h-2zM54 249h4v1h-4zM61 249h1v1h-1zM149 249h1v1h-1zM319 249h1v1h-1zM491 249h1v1h-1zM547 249h1v1h-1zM731 249h1v1h-1zM825 249h1v1h-1zM22 250h2v1h-2zM58 250h3v1h-3zM150 250h1v1h-1zM319 250h1v1h-1zM492 250h1v1h-1zM546 250h1v1h-1zM732 250h1v1h-1zM824 250h1v1h-1zM8 251h14v1h-14zM150 251h1v1h-1zM318 251h1v1h-1zM493 251h1v1h-1zM546 251h1v1h-1zM733 251h1v1h-1zM824 251h1v1h-1zM3 252h5v1h-5zM151 252h1v1h-1zM318 252h1v1h-1zM494 252h1v1h-1zM545 252h1v1h-1zM733 252h1v1h-1zM823 252h1v1h-1zM151 253h1v1h-1zM317 253h1v1h-1zM495 253h1v1h-1zM544 253h1v1h-1zM734 253h1v1h-1zM823 253h1v1h-1zM152 254h1v1h-1zM317 254h1v1h-1zM495 254h1v1h-1zM543 254h1v1h-1zM734 254h1v1h-1zM822 254h1v1h-1zM152 255h1v1h-1zM316 255h1v1h-1zM496 255h1v1h-1zM541 255h2v1h-2zM735 255h1v1h-1zM821 255h1v1h-1zM153 256h1v1h-1zM315 256h1v1h-1zM497 256h1v1h-1zM540 256h1v1h-1zM735 256h1v1h-1zM821 256h1v1h-1zM153 257h1v1h-1zM315 257h1v1h-1zM498 257h1v1h-1zM537 257h3v1h-3zM736 257h1v1h-1zM820 257h1v1h-1zM153 258h1v1h-1zM314 258h1v1h-1zM499 258h2v1h-2zM532 258h5v1h-5zM737 258h1v1h-1zM819 258h1v1h-1zM154 259h1v1h-1zM314 259h1v1h-1zM501 259h2v1h-2zM524 259h8v1h-8zM737 259h1v1h-1zM819 259h1v1h-1zM154 260h1v1h-1zM313 260h1v1h-1zM503 260h3v1h-3zM513 260h11v1h-11zM738 260h1v1h-1zM818 260h1v1h-1zM155 261h1v1h-1zM313 261h1v1h-1zM506 261h7v1h-7zM738 261h1v1h-1zM818 261h1v1h-1zM155 262h1v1h-1zM312 262h1v1h-1zM739 262h1v1h-1zM817 262h1v1h-1zM155 263h1v1h-1zM311 263h1v1h-1zM740 263h1v1h-1zM816 263h1v1h-1zM156 264h1v1h-1zM311 264h1v1h-1zM740 264h1v1h-1zM816 264h1v1h-1zM156 265h1v1h-1zM310 265h1v1h-1zM741 265h1v1h-1zM815 265h1v1h-1zM157 266h1v1h-1zM310 266h1v1h-1zM742 266h1v1h-1zM814 266h1v1h-1zM157 267h1v1h-1zM309 267h1v1h-1zM743 267h1v1h-1zM813 267h1v1h-1zM158 268h1v1h-1zM308 268h1v1h-1zM743 268h1v1h-1zM813 268h1v1h-1zM158 269h1v1h-1zM308 269h1v1h-1zM744 269h1v1h-1zM812 269h1v1h-1zM159 270h1v1h-1zM307 270h1v1h-1zM745 270h1v1h-1zM811 270h1v1h-1zM159 271h1v1h-1zM307 271h1v1h-1zM746 271h1v1h-1zM810 271h1v1h-1zM160 272h1v1h-1zM306 272h1v1h-1zM746 272h1v1h-1zM810 272h1v1h-1zM160 273h1v1h-1zM305 273h1v1h-1zM747 273h1v1h-1zM809 273h1v1h-1zM161 274h1v1h-1zM305 274h1v1h-1zM748 274h1v1h-1zM808 274h1v1h-1zM161 275h1v1h-1zM304 275h1v1h-1zM749 275h1v1h-1zM807 275h1v1h-1zM162 276h1v1h-1zM303 276h1v1h-1zM750 276h1v1h-1zM806 276h1v1h-1zM162 277h1v1h-1zM303 277h1v1h-1zM751 277h1v1h-1zM806 277h1v1h-1zM163 278h1v1h-1zM302 278h1v1h-1zM752 278h1v1h-1zM805 278h1v1h-1zM163 279h1v1h-1zM302 279h1v1h-1zM753 279h1v1h-1zM804 279h1v1h-1zM164 280h1v1h-1zM301 280h1v1h-1zM754 280h1v1h-1zM802 280h2v1h-2zM164 281h1v1h-1zM300 281h1v1h-1zM755 281h1v1h-1zM798 281h4v1h-4zM165 282h1v1h-1zM300 282h1v1h-1zM756 282h1v1h-1zM795 282h3v1h-3zM165 283h1v1h-1zM299 283h1v1h-1zM756 283h1v1h-1zM793 283h2v1h-2zM166 284h1v1h-1zM298 284h1v1h-1zM757 284h1v1h-1zM791 284h2v1h-2zM166 285h1v1h-1zM298 285h1v1h-1zM758 285h1v1h-1zM788 285h3v1h-3zM167 286h1v1h-1zM297 286h1v1h-1zM759 286h1v1h-1zM786 286h2v1h-2zM167 287h1v1h-1zM297 287h1v1h-1zM760 287h2v1h-2zM783 287h3v1h-3zM168 288h1v1h-1zM296 288h1v1h-1zM762 288h2v1h-2zM770 288h13v1h-13zM168 289h1v1h-1zM295 289h1v1h-1zM764 289h6v1h-6zM169 290h1v1h-1zM295 290h1v1h-1zM170 291h1v1h-1zM294 291h1v1h-1zM170 292h1v1h-1zM293 292h1v1h-1zM171 293h1v1h-1zM293 293h1v1h-1zM172 294h1v1h-1zM292 294h1v1h-1zM172 295h1v1h-1zM292 295h1v1h-1zM173 296h1v1h-1zM291 296h1v1h-1zM174 297h1v1h-1zM290 297h1v1h-1zM174 298h1v1h-1zM290 298h1v1h-1zM175 299h1v1h-1zM289 299h1v1h-1zM176 300h1v1h-1zM288 300h1v1h-1zM176 301h1v1h-1zM288 301h1v1h-1zM177 302h1v1h-1zM287 302h1v1h-1zM178 303h1v1h-1zM287 303h1v1h-1zM178 304h1v1h-1zM286 304h1v1h-1zM179 305h1v1h-1zM286 305h1v1h-1zM180 306h1v1h-1zM285 306h1v1h-1zM180 307h1v1h-1zM285 307h1v1h-1zM181 308h1v1h-1zM284 308h1v1h-1zM181 309h1v1h-1zM284 309h1v1h-1zM182 310h1v1h-1zM283 310h1v1h-1zM182 311h1v1h-1zM283 311h1v1h-1zM183 312h1v1h-1zM282 312h1v1h-1zM183 313h1v1h-1zM282 313h1v1h-1zM184 314h1v1h-1zM281 314h1v1h-1zM184 315h1v1h-1zM281 315h1v1h-1zM185 316h1v1h-1zM280 316h1v1h-1zM185 317h1v1h-1zM280 317h1v1h-1zM186 318h1v1h-1zM279 318h1v1h-1zM186 319h1v1h-1zM278 319h1v1h-1zM187 320h1v1h-1zM278 320h1v1h-1zM187 321h1v1h-1zM277 321h1v1h-1zM188 322h1v1h-1zM276 322h1v1h-1zM188 323h1v1h-1zM276 323h1v1h-1zM189 324h1v1h-1zM275 324h1v1h-1zM189 325h1v1h-1zM274 325h1v1h-1zM190 326h1v1h-1zM274 326h1v1h-1zM191 327h1v1h-1zM273 327h1v1h-1zM191 328h1v1h-1zM272 328h1v1h-1zM192 329h1v1h-1zM272 329h1v1h-1zM193 330h1v1h-1zM271 330h1v1h-1zM194 331h1v1h-1zM270 331h1v1h-1zM194 332h1v1h-1zM269 332h1v1h-1zM195 333h1v1h-1zM268 333h1v1h-1zM196 334h1v1h-1zM267 334h1v1h-1zM197 335h1v1h-1zM266 335h1v1h-1zM197 336h1v1h-1zM265 336h1v1h-1zM198 337h1v1h-1zM264 337h1v1h-1zM199 338h1v1h-1zM263 338h1v1h-1zM200 339h1v1h-1zM262 339h1v1h-1zM201 340h1v1h-1zM261 340h1v1h-1zM201 341h1v1h-1zM260 341h1v1h-1zM202 342h1v1h-1zM259 342h1v1h-1zM203 343h1v1h-1zM258 343h1v1h-1zM204 344h1v1h-1zM257 344h1v1h-1zM204 345h1v1h-1zM257 345h1v1h-1zM205 346h1v1h-1zM256 346h1v1h-1zM206 347h1v1h-1zM255 347h1v1h-1zM207 348h1v1h-1zM254 348h1v1h-1zM207 349h1v1h-1zM253 349h1v1h-1zM208 350h1v1h-1zM252 350h1v1h-1zM209 351h1v1h-1zM252 351h1v1h-1zM210 352h1v1h-1zM251 352h1v1h-1zM211 353h1v1h-1zM250 353h1v1h-1zM212 354h1v1h-1zM249 354h1v1h-1zM213 355h1v1h-1zM249 355h1v1h-1zM214 356h1v1h-1zM248 356h1v1h-1zM215 357h2v1h-2zM246 357h2v1h-2zM217 358h4v1h-4zM243 358h3v1h-3zM221 359h4v1h-4zM240 359h3v1h-3zM225 360h2v1h-2zM237 360h3v1h-3zM227 361h3v1h-3zM233 361h4v1h-4zM230 362h3v1h-3z" fill="#0000ff" shape-rendering="crispEdges"/>
<path d="M904 119h2v1h-2zM903 120h1v1h-1zM906 120h3v1h-3zM884 121h5v1h-5zM901 121h2v1h-2zM909 121h1v1h-1zM882 122h2v1h-2zM889 122h2v1h-2zM894 122h4v1h-4zM900 122h1v1h-1zM910 122h2v1h-2zM880 123h2v1h-2zM891 123h3v1h-3zM898 123h2v1h-2zM912 123h1v1h-1zM879 124h1v1h-1zM913 124h1v1h-1zM878 125h1v1h-1zM914 125h1v1h-1zM877 126h1v1h-1zM914 126h1v1h-1zM877 127h1v1h-1zM915 127h1v1h-1zM876 128h1v1h-1zM916 128h1v1h-1zM875 129h1v1h-1zM917 129h1v1h-1zM874 130h1v1h-1zM918 130h1v1h-1zM874 131h1v1h-1zM918 131h1v1h-1zM873 132h1v1h-1zM919 132h1v1h-1zM873 133h1v1h-1zM920 133h1v1h-1zM872 134h1v1h-1zM920 134h1v1h-1zM871 135h1v1h-1zM921 135h1v1h-1zM871 136h1v1h-1zM921 136h1v1h-1zM870 137h1v1h-1zM921 137h1v1h-1zM870 138h1v1h-1zM921 138h1v1h-1zM869 139h1v1h-1zM922 139h1v1h-1zM869 140h1v1h-1zM922 140h1v1h-1zM868 141h1v1h-1zM868 142h1v1h-1zM867 143h1v1h-1zM867 144h1v1h-1zM866 145h1v1h-1zM866 146h1v1h-1zM865 147h1v1h-1zM865 148h1v1h-1zM412 149h2v1h-2zM864 149h1v1h-1zM410 150h2v1h-2zM414 150h2v1h-2zM864 150h1v1h-1zM408 151h2v1h-2zM416 151h2v1h-2zM864 151h1v1h-1zM406 152h2v1h-2zM418 152h1v1h-1zM863 152h1v1h-1zM404 153h2v1h-2zM419 153h1v1h-1zM863 153h1v1h-1zM402 154h2v1h-2zM420 154h1v1h-1zM862 154h1v1h-1zM401 155h1v1h-1zM420 155h1v1h-1zM862 155h1v1h-1zM400 156h1v1h-1zM421 156h1v1h-1zM862 156h1v1h-1zM398 157h2v1h-2zM422 157h1v1h-1zM861 157h1v1h-1zM397 158h1v1h-1zM423 158h1v1h-1zM861 158h1v1h-1zM396 159h1v1h-1zM424 159h1v1h-1zM861 159h1v1h-1zM396 160h1v1h-1zM425 160h1v1h-1zM860 160h1v1h-1zM395 161h1v1h-1zM426 161h1v1h-1zM860 161h1v1h-1zM394 162h1v1h-1zM427 162h1v1h-1zM859 162h1v1h-1zM393 163h1v1h-1zM427 163h1v1h-1zM859 163h1v1h-1zM393 164h1v1h-1zM428 164h1v1h-1zM859 164h1v1h-1zM392 165h1v1h-1zM429 165h1v1h-1zM858 165h1v1h-1zM391 166h1v1h-1zM430 166h1v1h-1zM858 166h1v1h-1zM390 167h1v1h-1zM431 167h1v1h-1zM858 167h1v1h-1zM390 168h1v1h-1zM432 168h1v1h-1zM857 168h1v1h-1zM389 169h1v1h-1zM432 169h1v1h-1zM857 169h1v1h-1zM388 170h1v1h-1zM433 170h1v1h-1zM857 170h1v1h-1zM386 171h2v1h-2zM434 171h1v1h-1zM856 171h1v1h-1zM385 172h1v1h-1zM435 172h1v1h-1zM856 172h1v1h-1zM384 173h1v1h-1zM435 173h1v1h-1zM855 173h1v1h-1zM383 174h1v1h-1zM436 174h1v1h-1zM855 174h1v1h-1zM381 175h2v1h-2zM437 175h1v1h-1zM855 175h1v1h-1zM380 176h1v1h-1zM438 176h1v1h-1zM854 176h1v1h-1zM379 177h1v1h-1zM438 177h1v1h-1zM854 177h1v1h-1zM377 178h2v1h-2zM439 178h1v1h-1zM854 178h1v1h-1zM376 179h1v1h-1zM440 179h1v1h-1zM853 179h1v1h-1zM374 180h2v1h-2zM440 180h1v1h-1zM853 180h1v1h-1zM372 181h2v1h-2zM441 181h1v1h-1zM853 181h1v1h-1zM371 182h1v1h-1zM441 182h1v1h-1zM853 182h1v1h-1zM369 183h2v1h-2zM442 183h1v1h-1zM852 183h1v1h-1zM367 184h2v1h-2zM443 184h1v1h-1zM852 184h1v1h-1zM365 185h2v1h-2zM443 185h1v1h-1zM852 185h1v1h-1zM363 186h2v1h-2zM444 186h1v1h-1zM851 186h1v1h-1zM362 187h1v1h-1zM445 187h1v1h-1zM851 187h1v1h-1zM361 188h1v1h-1zM445 188h1v1h-1zM851 188h1v1h-1zM360 189h1v1h-1zM446 189h1v1h-1zM850 189h1v1h-1zM359 190h1v1h-1zM446 190h1v1h-1zM850 190h1v1h-1zM358 191h1v1h-1zM447 191h1v1h-1zM850 191h1v1h-1zM356 192h2v1h-2zM448 192h1v1h-1zM850 192h1v1h-1zM352 193h4v1h-4zM448 193h1v1h-1zM673 193h6v1h-6zM849 193h1v1h-1zM349 194h3v1h-3zM449 194h1v1h-1zM664 194h9v1h-9zM679 194h2v1h-2zM849 194h1v1h-1zM347 195h2v1h-2zM450 195h1v1h-1zM656 195h8v1h-8zM681 195h3v1h-3zM849 195h1v1h-1zM335 196h4v1h-4zM345 196h2v1h-2zM450 196h1v1h-1zM651 196h5v1h-5zM684 196h2v1h-2zM848 196h1v1h-1zM334 197h1v1h-1zM339 197h6v1h-6zM451 197h1v1h-1zM649 197h2v1h-2zM686 197h1v1h-1zM847 197h2v1h-2zM332 198h2v1h-2zM452 198h1v1h-1zM618 198h3v1h-3zM648 198h1v1h-1zM687 198h2v1h-2zM845 198h2v1h-2zM331 199h1v1h-1zM452 199h1v1h-1zM614 199h4v1h-4zM621 199h2v1h-2zM646 199h2v1h-2zM689 199h1v1h-1zM844 199h1v1h-1zM330 200h1v1h-1zM453 200h1v1h-1zM611 200h3v1h-3zM623 200h3v1h-3zM644 200h2v1h-2zM690 200h1v1h-1zM844 200h1v1h-1zM329 201h1v1h-1zM454 201h1v1h-1zM609 201h2v1h-2zM626 201h2v1h-2zM643 201h1v1h-1zM691 201h2v1h-2zM843 201h1v1h-1zM329 202h1v1h-1zM454 202h1v1h-1zM607 202h2v1h-2zM628 202h2v1h-2zM641 202h2v1h-2zM693 202h1v1h-1zM842 202h1v1h-1zM328 203h1v1h-1zM455 203h1v1h-1zM605 203h2v1h-2zM630 203h2v1h-2zM639 203h2v1h-2zM694 203h1v1h-1zM841 203h1v1h-1zM328 204h1v1h-1zM456 204h1v1h-1zM600 204h5v1h-5zM632 204h2v1h-2zM637 204h2v1h-2zM695 204h1v1h-1zM841 204h1v1h-1zM327 205h1v1h-1zM456 205h1v1h-1zM595 205h5v1h-5zM634 205h3v1h-3zM696 205h1v1h-1zM840 205h1v1h-1zM327 206h1v1h-1zM457 206h1v1h-1zM593 206h2v1h-2zM697 206h1v1h-1zM839 206h1v1h-1zM326 207h1v1h-1zM457 207h1v1h-1zM565 207h4v1h-4zM591 207h2v1h-2zM697 207h1v1h-1zM839 207h1v1h-1zM326 208h1v1h-1zM458 208h1v1h-1zM563 208h2v1h-2zM569 208h6v1h-6zM589 208h2v1h-2zM698 208h1v1h-1zM838 208h1v1h-1zM325 209h1v1h-1zM458 209h1v1h-1zM562 209h1v1h-1zM575 209h2v1h-2zM586 209h3v1h-3zM699 209h1v1h-1zM838 209h1v1h-1zM325 210h1v1h-1zM459 210h1v1h-1zM560 210h2v1h-2zM577 210h3v1h-3zM583 210h3v1h-3zM700 210h1v1h-1zM837 210h1v1h-1zM105 211h8v1h-8zM324 211h1v1h-1zM459 211h1v1h-1zM558 211h2v1h-2zM580 211h3v1h-3zM700 211h1v1h-1zM837 211h1v1h-1zM81 212h2v1h-2zM103 212h2v1h-2zM113 212h2v1h-2zM324 212h1v1h-1zM460 212h1v1h-1zM557 212h1v1h-1zM701 212h1v1h-1zM836 212h1v1h-1zM80 213h1v1h-1zM83 213h4v1h-4zM102 213h1v1h-1zM115 213h2v1h-2zM323 213h1v1h-1zM460 213h1v1h-1zM556 213h1v1h-1zM701 213h1v1h-1zM836 213h1v1h-1zM79 214h1v1h-1zM87 214h7v1h-7zM100 214h2v1h-2zM117 214h1v1h-1zM323 214h1v1h-1zM461 214h1v1h-1zM555 214h1v1h-1zM701 214h1v1h-1zM836 214h1v1h-1zM78 215h1v1h-1zM94 215h6v1h-6zM118 215h1v1h-1zM322 215h1v1h-1zM461 215h1v1h-1zM554 215h1v1h-1zM702 215h1v1h-1zM835 215h1v1h-1zM77 216h1v1h-1zM118 216h1v1h-1zM322 216h1v1h-1zM462 216h1v1h-1zM553 216h1v1h-1zM702 216h1v1h-1zM835 216h1v1h-1zM76 217h1v1h-1zM119 217h1v1h-1zM321 217h1v1h-1zM462 217h1v1h-1zM552 217h1v1h-1zM703 217h1v1h-1zM834 217h1v1h-1zM75 218h1v1h-1zM120 218h1v1h-1zM321 218h1v1h-1zM463 218h1v1h-1zM551 218h1v1h-1zM703 218h1v1h-1zM834 218h1v1h-1zM75 219h1v1h-1zM120 219h1v1h-1zM320 219h1v1h-1zM463 219h1v1h-1zM550 219h1v1h-1zM703 219h1v1h-1zM833 219h1v1h-1zM74 220h1v1h-1zM121 220h1v1h-1zM320 220h1v1h-1zM463 220h1v1h-1zM549 220h1v1h-1zM704 220h1v1h-1zM833 220h1v1h-1zM74 221h1v1h-1zM122 221h1v1h-1zM319 221h1v1h-1zM464 221h1v1h-1zM548 221h1v1h-1zM704 221h1v1h-1zM833 221h1v1h-1zM74 222h1v1h-1zM122 222h1v1h-1zM319 222h1v1h-1zM464 222h1v1h-1zM548 222h1v1h-1zM704 222h1v1h-1zM832 222h1v1h-1zM73 223h1v1h-1zM123 223h1v1h-1zM318 223h1v1h-1zM465 223h1v1h-1zM547 223h1v1h-1zM705 223h1v1h-1zM832 223h1v1h-1zM73 224h1v1h-1zM124 224h1v1h-1zM318 224h1v1h-1zM465 224h1v1h-1zM547 224h1v1h-1zM705 224h1v1h-1zM831 224h1v1h-1zM73 225h1v1h-1zM124 225h1v1h-1zM317 225h1v1h-1zM466 225h1v1h-1zM546 225h1v1h-1zM705 225h1v1h-1zM831 225h1v1h-1zM72 226h1v1h-1zM125 226h1v1h-1zM317 226h1v1h-1zM466 226h1v1h-1zM546 226h1v1h-1zM706 226h1v1h-1zM830 226h1v1h-1zM72 227h1v1h-1zM125 227h1v1h-1zM316 227h1v1h-1zM466 227h1v1h-1zM545 227h1v1h-1zM706 227h1v1h-1zM830 227h1v1h-1zM72 228h1v1h-1zM126 228h1v1h-1zM316 228h1v1h-1zM467 228h1v1h-1zM545 228h1v1h-1zM707 228h1v1h-1zM829 228h1v1h-1zM6 229h3v1h-3zM71 229h1v1h-1zM126 229h1v1h-1zM315 229h1v1h-1zM467 229h1v1h-1zM544 229h1v1h-1zM707 229h1v1h-1zM829 229h1v1h-1zM3 230h3v1h-3zM9 230h2v1h-2zM71 230h1v1h-1zM127 230h1v1h-1zM315 230h1v1h-1zM468 230h1v1h-1zM544 230h1v1h-1zM707 230h1v1h-1zM828 230h1v1h-1zM11 231h2v1h-2zM71 231h1v1h-1zM127 231h1v1h-1zM314 231h1v1h-1zM468 231h1v1h-1zM543 231h1v1h-1zM708 231h1v1h-1zM828 231h1v1h-1zM13 232h1v1h-1zM70 232h1v1h-1zM128 232h1v1h-1zM313 232h1v1h-1zM469 232h1v1h-1zM542 232h1v1h-1zM708 232h1v1h-1zM827 232h1v1h-1zM13 233h1v1h-1zM70 233h1v1h-1zM128 233h1v1h-1zM313 233h1v1h-1zM469 233h1v1h-1zM542 233h1v1h-1zM708 233h1v1h-1zM826 233h1v1h-1zM14 234h1v1h-1zM70 234h1v1h-1zM129 234h1v1h-1zM312 234h1v1h-1zM470 234h1v1h-1zM541 234h1v1h-1zM709 234h1v1h-1zM826 234h1v1h-1zM15 235h1v1h-1zM69 235h1v1h-1zM129 235h1v1h-1zM312 235h1v1h-1zM470 235h1v1h-1zM541 235h1v1h-1zM709 235h1v1h-1zM825 235h1v1h-1zM15 236h1v1h-1zM69 236h1v1h-1zM129 236h1v1h-1zM311 236h1v1h-1zM471 236h1v1h-1zM540 236h1v1h-1zM710 236h1v1h-1zM824 236h1v1h-1zM16 237h1v1h-1zM68 237h1v1h-1zM130 237h1v1h-1zM311 237h1v1h-1zM471 237h1v1h-1zM539 237h1v1h-1zM710 237h1v1h-1zM823 237h1v1h-1zM16 238h1v1h-1zM68 238h1v1h-1zM130 238h1v1h-1zM310 238h1v1h-1zM472 238h1v1h-1zM539 238h1v1h-1zM710 238h1v1h-1zM823 238h1v1h-1zM17 239h1v1h-1zM67 239h1v1h-1zM131 239h1v1h-1zM309 239h1v1h-1zM472 239h1v1h-1zM538 239h1v1h-1zM711 239h1v1h-1zM822 239h1v1h-1zM17 240h1v1h-1zM67 240h1v1h-1zM131 240h1v1h-1zM309 240h1v1h-1zM473 240h1v1h-1zM537 240h1v1h-1zM711 240h1v1h-1zM821 240h1v1h-1zM17 241h1v1h-1zM67 241h1v1h-1zM132 241h1v1h-1zM308 241h1v1h-1zM474 241h1v1h-1zM537 241h1v1h-1zM711 241h1v1h-1zM820 241h1v1h-1zM18 242h1v1h-1zM66 242h1v1h-1zM132 242h1v1h-1zM308 242h1v1h-1zM474 242h1v1h-1zM536 242h1v1h-1zM712 242h1v1h-1zM820 242h1v1h-1zM18 243h1v1h-1zM66 243h1v1h-1zM132 243h1v1h-1zM307 243h1v1h-1zM475 243h1v1h-1zM536 243h1v1h-1zM712 243h1v1h-1zM819 243h1v1h-1zM18 244h1v1h-1zM65 244h1v1h-1zM133 244h1v1h-1zM307 244h1v1h-1zM475 244h1v1h-1zM535 244h1v1h-1zM713 244h1v1h-1zM818 244h1v1h-1zM19 245h1v1h-1zM65 245h1v1h-1zM133 245h1v1h-1zM306 245h1v1h-1zM476 245h1v1h-1zM534 245h1v1h-1zM713 245h1v1h-1zM818 245h1v1h-1zM19 246h1v1h-1zM64 246h1v1h-1zM134 246h1v1h-1zM305 246h1v1h-1zM476 246h1v1h-1zM533 246h1v1h-1zM714 246h1v1h-1zM817 246h1v1h-1zM19 247h1v1h-1zM64 247h1v1h-1zM134 247h1v1h-1zM305 247h1v1h-1zM477 247h1v1h-1zM532 247h1v1h-1zM714 247h1v1h-1zM817 247h1v1h-1zM20 248h1v1h-1zM63 248h1v1h-1zM135 248h1v1h-1zM304 248h1v1h-1zM477 248h1v1h-1zM531 248h1v1h-1zM715 248h1v1h-1zM816 248h1v1h-1zM20 249h1v1h-1zM62 249h1v1h-1zM135 249h1v1h-1zM304 249h1v1h-1zM478 249h1v1h-1zM531 249h1v1h-1zM715 249h1v1h-1zM815 249h1v1h-1zM20 250h1v1h-1zM62 250h1v1h-1zM136 250h1v1h-1zM303 250h1v1h-1zM479 250h1v1h-1zM530 250h1v1h-1zM715 250h1v1h-1zM815 250h1v1h-1zM21 251h1v1h-1zM61 251h1v1h-1zM136 251h1v1h-1zM302 251h1v1h-1zM479 251h1v1h-1zM529 251h1v1h-1zM716 251h1v1h-1zM814 251h1v1h-1zM21 252h1v1h-1zM59 252h2v1h-2zM137 252h1v1h-1zM302 252h1v1h-1zM480 252h1v1h-1zM528 252h1v1h-1zM716 252h1v1h-1zM814 252h1v1h-1zM22 253h1v1h-1zM56 253h3v1h-3zM137 253h1v1h-1zM301 253h1v1h-1zM481 253h1v1h-1zM527 253h1v1h-1zM717 253h1v1h-1zM813 253h1v1h-1zM22 254h1v1h-1zM52 254h4v1h-4zM138 254h1v1h-1zM301 254h1v1h-1zM481 254h1v1h-1zM527 254h1v1h-1zM717 254h1v1h-1zM812 254h1v1h-1zM23 255h1v1h-1zM48 255h4v1h-4zM138 255h1v1h-1zM300 255h1v1h-1zM482 255h1v1h-1zM526 255h1v1h-1zM718 255h1v1h-1zM812 255h1v1h-1zM23 256h1v1h-1zM43 256h5v1h-5zM139 256h1v1h-1zM299 256h1v1h-1zM482 256h1v1h-1zM526 256h1v1h-1zM718 256h1v1h-1zM811 256h1v1h-1zM24 257h1v1h-1zM39 257h4v1h-4zM139 257h1v1h-1zM299 257h1v1h-1zM483 257h1v1h-1zM525 257h1v1h-1zM719 257h1v1h-1zM810 257h1v1h-1zM24 258h1v1h-1zM37 258h2v1h-2zM140 258h1v1h-1zM298 258h1v1h-1zM484 258h1v1h-1zM525 258h1v1h-1zM719 258h1v1h-1zM809 258h1v1h-1zM25 259h1v1h-1zM35 259h2v1h-2zM140 259h1v1h-1zM297 259h1v1h-1zM484 259h1v1h-1zM524 259h1v1h-1zM720 259h1v1h-1zM809 259h1v1h-1zM25 260h1v1h-1zM32 260h3v1h-3zM141 260h1v1h-1zM297 260h1v1h-1zM485 260h1v1h-1zM524 260h1v1h-1zM720 260h1v1h-1zM808 260h1v1h-1zM26 261h2v1h-2zM30 261h2v1h-2zM142 261h1v1h-1zM296 261h1v1h-1zM486 261h1v1h-1zM523 261h1v1h-1zM721 261h1v1h-1zM807 261h1v1h-1zM28 262h2v1h-2zM143 262h1v1h-1zM296 262h1v1h-1zM486 262h1v1h-1zM523 262h1v1h-1zM721 262h1v1h-1zM806 262h1v1h-1zM144 263h1v1h-1zM295 263h1v1h-1zM487 263h1v1h-1zM522 263h1v1h-1zM722 263h1v1h-1zM805 263h1v1h-1zM145 264h1v1h-1zM294 264h1v1h-1zM487 264h1v1h-1zM522 264h1v1h-1zM722 264h1v1h-1zM804 264h1v1h-1zM146 265h1v1h-1zM294 265h1v1h-1zM488 265h1v1h-1zM521 265h1v1h-1zM723 265h1v1h-1zM804 265h1v1h-1zM146 266h1v1h-1zM293 266h1v1h-1zM489 266h1v1h-1zM521 266h1v1h-1zM723 266h1v1h-1zM803 266h1v1h-1zM147 267h1v1h-1zM293 267h1v1h-1zM489 267h1v1h-1zM520 267h1v1h-1zM724 267h1v1h-1zM802 267h1v1h-1zM148 268h1v1h-1zM292 268h1v1h-1zM490 268h1v1h-1zM520 268h1v1h-1zM724 268h1v1h-1zM800 268h2v1h-2zM149 269h1v1h-1zM292 269h1v1h-1zM491 269h1v1h-1zM519 269h1v1h-1zM725 269h1v1h-1zM798 269h2v1h-2zM150 270h1v1h-1zM291 270h1v1h-1zM491 270h1v1h-1zM519 270h1v1h-1zM725 270h1v1h-1zM795 270h3v1h-3zM150 271h1v1h-1zM291 271h1v1h-1zM492 271h1v1h-1zM518 271h1v1h-1zM726 271h1v1h-1zM793 271h2v1h-2zM151 272h1v1h-1zM290 272h1v1h-1zM492 272h1v1h-1zM518 272h1v1h-1zM726 272h1v1h-1zM791 272h2v1h-2zM151 273h1v1h-1zM289 273h1v1h-1zM493 273h1v1h-1zM517 273h1v1h-1zM727 273h1v1h-1zM790 273h1v1h-1zM152 274h1v1h-1zM289 274h1v1h-1zM494 274h1v1h-1zM517 274h1v1h-1zM727 274h1v1h-1zM788 274h2v1h-2zM152 275h1v1h-1zM288 275h1v1h-1zM495 275h1v1h-1zM516 275h1v1h-1zM728 275h1v1h-1zM787 275h1v1h-1zM153 276h1v1h-1zM288 276h1v1h-1zM495 276h1v1h-1zM516 276h1v1h-1zM728 276h1v1h-1zM786 276h1v1h-1zM153 277h1v1h-1zM287 277h1v1h-1zM496 277h1v1h-1zM515 277h1v1h-1zM729 277h1v1h-1zM785 277h1v1h-1zM154 278h1v1h-1zM287 278h1v1h-1zM497 278h1v1h-1zM514 278h1v1h-1zM729 278h1v1h-1zM784 278h1v1h-1zM154 279h1v1h-1zM286 279h1v1h-1zM498 279h1v1h-1zM514 279h1v1h-1zM730 279h1v1h-1zM783 279h1v1h-1zM155 280h1v1h-1zM286 280h1v1h-1zM498 280h1v1h-1zM513 280h1v1h-1zM730 280h1v1h-1zM782 280h1v1h-1zM155 281h1v1h-1zM285 281h1v1h-1zM499 281h2v1h-2zM512 281h1v1h-1zM731 281h1v1h-1zM781 281h1v1h-1zM156 282h1v1h-1zM285 282h1v1h-1zM501 282h4v1h-4zM511 282h1v1h-1zM731 282h1v1h-1zM780 282h1v1h-1zM156 283h1v1h-1zM284 283h1v1h-1zM505 283h4v1h-4zM511 283h1v1h-1zM732 283h1v1h-1zM779 283h1v1h-1zM156 284h1v1h-1zM284 284h1v1h-1zM509 284h2v1h-2zM732 284h1v1h-1zM778 284h1v1h-1zM157 285h1v1h-1zM283 285h1v1h-1zM733 285h1v1h-1zM776 285h2v1h-2zM157 286h1v1h-1zM283 286h1v1h-1zM733 286h1v1h-1zM775 286h1v1h-1zM157 287h1v1h-1zM282 287h1v1h-1zM734 287h1v1h-1zM774 287h1v1h-1zM157 288h1v1h-1zM282 288h1v1h-1zM734 288h1v1h-1zM772 288h2v1h-2zM158 289h1v1h-1zM281 289h1v1h-1zM735 289h1v1h-1zM771 289h1v1h-1zM158 290h1v1h-1zM281 290h1v1h-1zM736 290h1v1h-1zM770 290h1v1h-1zM158 291h1v1h-1zM280 291h1v1h-1zM737 291h1v1h-1zM770 291h1v1h-1zM159 292h1v1h-1zM280 292h1v1h-1zM738 292h1v1h-1zM769 292h1v1h-1zM159 293h1v1h-1zM279 293h1v1h-1zM739 293h1v1h-1zM768 293h1v1h-1zM159 294h1v1h-1zM279 294h1v1h-1zM740 294h1v1h-1zM767 294h1v1h-1zM159 295h1v1h-1zM278 295h1v1h-1zM741 295h1v1h-1zM767 295h1v1h-1zM160 296h1v1h-1zM278 296h1v1h-1zM742 296h1v1h-1zM766 296h1v1h-1zM160 297h1v1h-1zM277 297h1v1h-1zM743 297h1v1h-1zM764 297h2v1h-2zM160 298h1v1h-1zM277 298h1v1h-1zM744 298h2v1h-2zM762 298h2v1h-2zM160 299h1v1h-1zM276 299h1v1h-1zM746 299h1v1h-1zM760 299h2v1h-2zM161 300h1v1h-1zM276 300h1v1h-1zM747 300h13v1h-13zM161 301h1v1h-1zM275 301h1v1h-1zM161 302h1v1h-1zM275 302h1v1h-1zM162 303h1v1h-1zM274 303h1v1h-1zM162 304h1v1h-1zM274 304h1v1h-1zM163 305h1v1h-1zM273 305h1v1h-1zM163 306h1v1h-1zM273 306h1v1h-1zM163 307h1v1h-1zM272 307h1v1h-1zM164 308h1v1h-1zM272 308h1v1h-1zM164 309h1v1h-1zM271 309h1v1h-1zM165 310h1v1h-1zM271 310h1v1h-1zM165 311h1v1h-1zM270 311h1v1h-1zM165 312h1v1h-1zM270 312h1v1h-1zM166 313h1v1h-1zM269 313h1v1h-1zM166 314h1v1h-1zM269 314h1v1h-1zM167 315h1v1h-1zM268 315h1v1h-1zM167 316h1v1h-1zM268 316h1v1h-1zM167 317h1v1h-1zM267 317h1v1h-1zM168 318h1v1h-1zM267 318h1v1h-1zM168 319h1v1h-1zM266 319h1v1h-1zM169 320h1v1h-1zM266 320h1v1h-1zM169 321h1v1h-1zM265 321h1v1h-1zM170 322h1v1h-1zM264 322h1v1h-1zM170 323h1v1h-1zM263 323h1v1h-1zM171 324h1v1h-1zM263 324h1v1h-1zM171 325h1v1h-1zM262 325h1v1h-1zM172 326h1v1h-1zM261 326h1v1h-1zM172 327h1v1h-1zM260 327h1v1h-1zM173 328h1v1h-1zM260 328h1v1h-1zM173 329h1v1h-1zM259 329h1v1h-1zM174 330h1v1h-1zM258 330h1v1h-1zM174 331h1v1h-1zM257 331h1v1h-1zM175 332h1v1h-1zM257 332h1v1h-1zM175 333h1v1h-1zM256 333h1v1h-1zM176 334h1v1h-1zM255 334h1v1h-1zM176 335h1v1h-1zM254 335h1v1h-1zM177 336h1v1h-1zM254 336h1v1h-1zM177 337h1v1h-1zM253 337h1v1h-1zM178 338h1v1h-1zM252 338h1v1h-1zM178 339h1v1h-1zM252 339h1v1h-1zM179 340h1v1h-1zM251 340h1v1h-1zM179 341h1v1h-1zM251 341h1v1h-1zM180 342h1v1h-1zM250 342h1v1h-1zM181 343h1v1h-1zM250 343h1v1h-1zM181 344h1v1h-1zM249 344h1v1h-1zM182 345h1v1h-1zM249 345h1v1h-1zM182 346h1v1h-1zM248 346h1v1h-1zM183 347h1v1h-1zM248 347h1v1h-1zM184 348h1v1h-1zM247 348h1v1h-1zM184 349h1v1h-1zM245 349h2v1h-2zM185 350h1v1h-1zM244 350h1v1h-1zM185 351h1v1h-1zM242 351h2v1h-2zM186 352h2v1h-2zM241 352h1v1h-1zM188 353h2v1h-2zM239 353h2v1h-2zM190 354h4v1h-4zM238 354h1v1h-1zM194 355h3v1h-3zM236 355h2v1h-2zM197 356h1v1h-1zM235 356h1v1h-1zM197 357h1v1h-1zM233 357h2v1h-2zM198 358h1v1h-1zM232 358h1v1h-1zM198 359h1v1h-1zM230 359h2v1h-2zM199 360h1v1h-1zM229 360h1v1h-1zM199 361h1v1h-1zM228 361h1v1h-1zM200 362h1v1h-1zM227 362h1v1h-1zM201 363h1v1h-1zM226 363h1v1h-1zM202 364h1v1h-1zM225 364h1v1h-1zM203 365h1v1h-1zM224 365h1v1h-1zM204 366h1v1h-1zM222 366h2v1h-2zM205 367h1v1h-1zM219 367h3v1h-3zM206 368h13v1h-13z" fill="#ff0000" shape-rendering="crispEdges"/>
<rect x="3" y="238" width="1" height="39" fill="#ff0000"/>
<rect x="3" y="255" width="2" height="4" fill="#ff0000"/>
<rect x="7" y="245" width="1" height="27" fill="#ff0000"/>
<rect x="6" y="252" width="3" height="4" fill="#ff0000"/>
<rect x="7" y="253" width="1" height="2" fill="#ff4800"/>
<rect x="11" y="245" width="1" height="42" fill="#32cd32"/>
<rect x="10" y="251" width="3" height="33" fill="#32cd32"/>
<rect x="15" y="281" width="1" height="31" fill="#32cd32"/>
<rect x="14" y="283" width="3" height="20" fill="#32cd32"/>
<rect x="19" y="294" width="1" height="4" fill="#ff0000"/>
<rect x="18" y="294" width="3" height="2" fill="#ff0000"/>
<rect x="23" y="281" width="1" height="17" fill="#ff0000"/>
<rect x="22" y="292" width="3" height="3" fill="#ff0000"/>
<rect x="23" y="293" width="1" height="1" fill="#ff4800"/>
<rect x="27" y="237" width="1" height="63" fill="#ff0000"/>
<rect x="26" y="241" width="3" height="51" fill="#ff0000"/>
<rect x="27" y="242" width="1" height="49" fill="#ff4800"/>
<rect x="31" y="188" width="1" height="62" fill="#ff0000"/>
<rect x="30" y="219" width="3" height="23" fill="#ff0000"/>
<rect x="31" y="220" width="1" height="21" fill="#ff4800"/>
<rect x="35" y="204" width="1" height="49" fill="#32cd32"/>
<rect x="34" y="219" width="3" height="13" fill="#32cd32"/>
<rect x="39" y="229" width="1" height="42" fill="#32cd32"/>
<rect x="38" y="232" width="3" height="3" fill="#32cd32"/>
<rect x="43" y="223" width="1" height="5" fill="#32cd32"/>
<rect x="42" y="223" width="3" height="3" fill="#32cd32"/>
<rect x="47" y="219" width="1" height="26" fill="#32cd32"/>
<rect x="46" y="226" width="3" height="14" fill="#32cd32"/>
<rect x="51" y="217" width="1" height="46" fill="#ff0000"/>
<rect x="50" y="220" width="3" height="20" fill="#ff0000"/>
<rect x="51" y="221" width="1" height="18" fill="#ff4800"/>
<rect x="55" y="212" width="1" height="42" fill="#32cd32"/>
<rect x="54" y="221" width="3" height="33" fill="#32cd32"/>
<rect x="59" y="217" width="1" height="39" fill="#ff0000"/>
<rect x="58" y="225" width="3" height="30" fill="#ff0000"/>
<rect x="59" y="226" width="1" height="28" fill="#ff4800"/>
<rect x="63" y="187" width="1" height="59" fill="#ff0000"/>
<rect x="62" y="195" width="3" height="29" fill="#ff0000"/>
<rect x="63" y="196" width="1" height="27" fill="#ff4800"/>
<rect x="67" y="183" width="1" height="6" fill="#ff0000"/>
<rect x="66" y="186" width="3" height="1" fill="#ff0000"/>
<rect x="71" y="129" width="1" height="61" fill="#ff0000"/>
<rect x="70" y="169" width="3" height="17" fill="#ff0000"/>
<rect x="71" y="170" width="1" height="15" fill="#ff4800"/>
<rect x="75" y="148" width="1" height="50" fill="#ff0000"/>
<rect x="74" y="163" width="3" height="7" fill="#ff0000"/>
<rect x="75" y="164" width="1" height="5" fill="#ff4800"/>
<rect x="79" y="159" width="1" height="58" fill="#32cd32"/>
<rect x="78" y="162" width="3" height="16" fill="#32cd32"/>
<rect x="83" y="172" width="1" height="75" fill="#32cd32"/>
<rect x="82" y="177" width="3" height="57" fill="#32cd32"/>
<rect x="87" y="202" width="1" height="42" fill="#32cd32"/>
<rect x="86" y="232" width="3" height="3" fill="#32cd32"/>
<rect x="91" y="236" width="1" height="5" fill="#32cd32"/>
<rect x="90" y="237" width="3" height="3" fill="#32cd32"/>
<rect x="95" y="230" width="1" height="27" fill="#32cd32"/>
<rect x="94" y="239" width="3" height="11" fill="#32cd32"/>
<rect x="99" y="213" width="1" height="53" fill="#ff0000"/>
<rect x="98" y="227" width="3" height="23" fill="#ff0000"/>
<rect x="99" y="228" width="1" height="21" fill="#ff4800"/>
<rect x="103" y="182" width="1" height="50" fill="#ff0000"/>
<rect x="102" y="191" width="3" height="36" fill="#ff0000"/>
<rect x="103" y="192" width="1" height="34" fill="#ff4800"/>
<rect x="107" y="190" width="1" height="59" fill="#32cd32"/>
<rect x="106" y="191" width="3" height="33" fill="#32cd32"/>
<rect x="111" y="198" width="1" height="52" fill="#32cd32"/>
<rect x="110" y="223" width="3" height="23" fill="#32cd32"/>
<rect x="115" y="248" width="1" height="6" fill="#ff0000"/>
<rect x="114" y="250" width="3" height="3" fill="#ff0000"/>
<rect x="115" y="251" width="1" height="1" fill="#ff4800"/>
<rect x="119" y="237" width="1" height="46" fill="#32cd32"/>
<rect x="118" y="248" width="3" height="20" fill="#32cd32"/>
<rect x="123" y="249" width="1" height="39" fill="#32cd32"/>
<rect x="122" y="266" width="3" height="5" fill="#32cd32"/>
<rect x="127" y="240" width="1" height="32" fill="#ff0000"/>
<rect x="126" y="269" width="3" height="2" fill="#ff0000"/>
<rect x="131" y="263" width="1" height="27" fill="#32cd32"/>
<rect x="130" y="268" width="3" height="19" fill="#32cd32"/>
<rect x="135" y="279" width="1" height="52" fill="#32cd32"/>
<rect x="134" y="286" width="3" height="42" fill="#32cd32"/>
<rect x="139" y="314" width="1" height="7" fill="#ff0000"/>
<rect x="138" y="315" width="3" height="5" fill="#ff0000"/>
<rect x="139" y="316" width="1" height="3" fill="#ff4800"/>
<rect x="143" y="312" width="1" height="22" fill="#32cd32"/>
<rect x="142" y="315" width="3" height="3" fill="#32cd32"/>
<rect x="147" y="309" width="1" height="30" fill="#32cd32"/>
<rect x="146" y="317" width="3" height="2" fill="#32cd32"/>
<rect x="151" y="317" width="1" height="24" fill="#32cd32"/>
<rect x="150" y="318" width="3" height="19" fill="#32cd32"/>
<rect x="155" y="336" width="1" height="40" fill="#32cd32"/>
<rect x="154" y="336" width="3" height="30" fill="#32cd32"/>
<rect x="159" y="355" width="1" height="29" fill="#ff0000"/>
<rect x="158" y="361" width="3" height="4" fill="#ff0000"/>
<rect x="159" y="362" width="1" height="2" fill="#ff4800"/>
<rect x="163" y="366" width="1" height="5" fill="#ff0000"/>
<rect x="162" y="366" width="3" height="3" fill="#ff0000"/>
<rect x="163" y="367" width="1" height="1" fill="#ff4800"/>
<rect x="167" y="350" width="1" height="26" fill="#32cd32"/>
<rect x="166" y="366" width="3" height="1" fill="#32cd32"/>
<rect x="171" y="366" width="1" height="30" fill="#32cd32"/>
<rect x="170" y="367" width="3" height="8" fill="#32cd32"/>
<rect x="175" y="369" width="1" height="28" fill="#32cd32"/>
<rect x="174" y="375" width="3" height="14" fill="#32cd32"/>
<rect x="179" y="361" width="1" height="45" fill="#ff0000"/>
<rect x="178" y="367" width="3" height="22" fill="#ff0000"/>
<rect x="179" y="368" width="1" height="20" fill="#ff4800"/>
<rect x="183" y="359" width="1" height="32" fill="#32cd32"/>
<rect x="182" y="367" width="3" height="3" fill="#32cd32"/>
<rect x="187" y="363" width="1" height="7" fill="#ff0000"/>
<rect x="186" y="367" width="3" height="2" fill="#ff0000"/>
<rect x="191" y="356" width="1" height="27" fill="#ff0000"/>
<rect x="190" y="363" width="3" height="5" fill="#ff0000"/>
<rect x="191" y="364" width="1" height="3" fill="#ff4800"/>
<rect x="195" y="356" width="1" height="22" fill="#ff0000"/>
<rect x="194" y="357" width="3" height="8" fill="#ff0000"/>
<rect x="195" y="358" width="1" height="6" fill="#ff4800"/>
<rect x="199" y="339" width="1" height="61" fill="#32cd32"/>
<rect x="198" y="358" width="3" height="11" fill="#32cd32"/>
<rect x="203" y="362" width="1" height="25" fill="#32cd32"/>
<rect x="202" y="368" width="3" height="11" fill="#32cd32"/>
<rect x="207" y="351" width="1" height="37" fill="#ff0000"/>
<rect x="206" y="366" width="3" height="13" fill="#ff0000"/>
<rect x="207" y="367" width="1" height="11" fill="#ff4800"/>
<rect x="211" y="360" width="1" height="4" fill="#ff0000"/>
<rect x="210" y="361" width="3" height="2" fill="#ff0000"/>
<rect x="215" y="352" width="1" height="25" fill="#32cd32"/>
<rect x="214" y="362" width="3" height="5" fill="#32cd32"/>
<rect x="219" y="343" width="1" height="24" fill="#ff0000"/>
<rect x="218" y="350" width="3" height="17" fill="#ff0000"/>
<rect x="219" y="351" width="1" height="15" fill="#ff4800"/>
<rect x="223" y="328" width="1" height="37" fill="#32cd32"/>
<rect x="222" y="350" width="3" height="15" fill="#32cd32"/>
<rect x="227" y="321" width="1" height="44" fill="#ff0000"/>
<rect x="226" y="330" width="3" height="35" fill="#ff0000"/>
<rect x="227" y="331" width="1" height="33" fill="#ff4800"/>
<rect x="231" y="317" width="1" height="21" fill="#ff0000"/>
<rect x="230" y="327" width="3" height="4" fill="#ff0000"/>
<rect x="231" y="328" width="1" height="2" fill="#ff4800"/>
<rect x="235" y="329" width="1" height="5" fill="#32cd32"/>
<rect x="234" y="329" width="3" height="2" fill="#32cd32"/>
<rect x="239" y="324" width="1" height="15" fill="#32cd32"/>
<rect x="238" y="330" width="3" height="5" fill="#32cd32"/>
<rect x="243" y="315" width="1" height="27" fill="#32cd32"/>
<rect x="242" y="334" width="3" height="4" fill="#32cd32"/>
<rect x="247" y="306" width="1" height="55" fill="#ff0000"/>
<rect x="246" y="314" width="3" height="23" fill="#ff0000"/>
<rect x="247" y="315" width="1" height="21" fill="#ff4800"/>
<rect x="251" y="264" width="1" height="53" fill="#ff0000"/>
<rect x="250" y="267" width="3" height="48" fill="#ff0000"/>
<rect x="251" y="268" width="1" height="46" fill="#ff4800"/>
<rect x="255" y="260" width="1" height="28" fill="#32cd32"/>
<rect x="254" y="267" width="3" height="17" fill="#32cd32"/>
<rect x="259" y="286" width="1" height="4" fill="#ff0000"/>
<rect x="258" y="287" width="3" height="2" fill="#ff0000"/>
<rect x="263" y="283" width="1" height="25" fill="#32cd32"/>
<rect x="262" y="287" width="3" height="15" fill="#32cd32"/>
<rect x="267" y="277" width="1" height="35" fill="#ff0000"/>
<rect x="266" y="278" width="3" height="24" fill="#ff0000"/>
<rect x="267" y="279" width="1" height="22" fill="#ff4800"/>
<rect x="271" y="252" width="1" height="39" fill="#ff0000"/>
<rect x="270" y="257" width="3" height="22" fill="#ff0000"/>
<rect x="271" y="258" width="1" height="20" fill="#ff4800"/>
<rect x="275" y="241" width="1" height="26" fill="#32cd32"/>
<rect x="274" y="257" width="3" height="4" fill="#32cd32"/>
<rect x="279" y="234" width="1" height="36" fill="#ff0000"/>
<rect x="278" y="234" width="3" height="26" fill="#ff0000"/>
<rect x="279" y="235" width="1" height="24" fill="#ff4800"/>
<rect x="283" y="237" width="1" height="8" fill="#ff0000"/>
<rect x="282" y="238" width="3" height="6" fill="#ff0000"/>
<rect x="283" y="239" width="1" height="4" fill="#ff4800"/>
<rect x="287" y="214" width="1" height="36" fill="#ff0000"/>
<rect x="286" y="214" width="3" height="24" fill="#ff0000"/>
<rect x="287" y="215" width="1" height="22" fill="#ff4800"/>
<rect x="291" y="196" width="1" height="40" fill="#32cd32"/>
<rect x="290" y="215" width="3" height="12" fill="#32cd32"/>
<rect x="295" y="212" width="1" height="28" fill="#32cd32"/>
<rect x="294" y="227" width="3" height="8" fill="#32cd32"/>
<rect x="299" y="227" width="1" height="18" fill="#ff0000"/>
<rect x="298" y="233" width="3" height="2" fill="#ff0000"/>
<rect x="303" y="171" width="1" height="64" fill="#ff0000"/>
<rect x="302" y="178" width="3" height="56" fill="#ff0000"/>
<rect x="303" y="179" width="1" height="54" fill="#ff4800"/>
<rect x="307" y="189" width="1" height="17" fill="#32cd32"/>
<rect x="306" y="190" width="3" height="16" fill="#32cd32"/>
<rect x="311" y="174" width="1" height="34" fill="#ff0000"/>
<rect x="310" y="199" width="3" height="7" fill="#ff0000"/>
<rect x="311" y="200" width="1" height="5" fill="#ff4800"/>
<rect x="315" y="154" width="1" height="49" fill="#ff0000"/>
<rect x="314" y="182" width="3" height="18" fill="#ff0000"/>
<rect x="315" y="183" width="1" height="16" fill="#ff4800"/>
<rect x="319" y="157" width="1" height="54" fill="#ff0000"/>
<rect x="318" y="165" width="3" height="18" fill="#ff0000"/>
<rect x="319" y="166" width="1" height="16" fill="#ff4800"/>
<rect x="323" y="153" width="1" height="28" fill="#ff0000"/>
<rect x="322" y="162" width="3" height="4" fill="#ff0000"/>
<rect x="323" y="163" width="1" height="2" fill="#ff4800"/>
<rect x="327" y="149" width="1" height="48" fill="#ff0000"/>
<rect x="326" y="153" width="3" height="10" fill="#ff0000"/>
<rect x="327" y="154" width="1" height="8" fill="#ff4800"/>
<rect x="331" y="154" width="1" height="9" fill="#32cd32"/>
<rect x="330" y="158" width="3" height="5" fill="#32cd32"/>
<rect x="335" y="151" width="1" height="41" fill="#32cd32"/>
<rect x="334" y="162" width="3" height="27" fill="#32cd32"/>
<rect x="339" y="186" width="1" height="61" fill="#32cd32"/>
<rect x="338" y="188" width="3" height="53" fill="#32cd32"/>
<rect x="343" y="232" width="1" height="28" fill="#ff0000"/>
<rect x="342" y="238" width="3" height="4" fill="#ff0000"/>
<rect x="343" y="239" width="1" height="2" fill="#ff4800"/>
<rect x="347" y="206" width="1" height="34" fill="#ff0000"/>
<rect x="346" y="213" width="3" height="26" fill="#ff0000"/>
<rect x="347" y="214" width="1" height="24" fill="#ff4800"/>
<rect x="351" y="199" width="1" height="28" fill="#ff0000"/>
<rect x="350" y="203" width="3" height="10" fill="#ff0000"/>
<rect x="351" y="204" width="1" height="8" fill="#ff4800"/>
<rect x="355" y="203" width="1" height="6" fill="#32cd32"/>
<rect x="354" y="203" width="3" height="5" fill="#32cd32"/>
<rect x="359" y="161" width="1" height="54" fill="#ff0000"/>
<rect x="358" y="167" width="3" height="40" fill="#ff0000"/>
<rect x="359" y="168" width="1" height="38" fill="#ff4800"/>
<rect x="363" y="139" width="1" height="34" fill="#ff0000"/>
<rect x="362" y="140" width="3" height="28" fill="#ff0000"/>
<rect x="363" y="141" width="1" height="26" fill="#ff4800"/>
<rect x="367" y="108" width="1" height="50" fill="#32cd32"/>
<rect x="366" y="140" width="3" height="14" fill="#32cd32"/>
<rect x="371" y="144" width="1" height="44" fill="#32cd32"/>
<rect x="370" y="153" width="3" height="27" fill="#32cd32"/>
<rect x="375" y="133" width="1" height="48" fill="#ff0000"/>
<rect x="374" y="134" width="3" height="47" fill="#ff0000"/>
<rect x="375" y="135" width="1" height="45" fill="#ff4800"/>
<rect x="379" y="125" width="1" height="7" fill="#ff0000"/>
<rect x="378" y="126" width="3" height="5" fill="#ff0000"/>
<rect x="379" y="127" width="1" height="3" fill="#ff4800"/>
<rect x="383" y="95" width="1" height="37" fill="#ff0000"/>
<rect x="382" y="108" width="3" height="18" fill="#ff0000"/>
<rect x="383" y="109" width="1" height="16" fill="#ff4800"/>
<rect x="387" y="104" width="1" height="16" fill="#32cd32"/>
<rect x="386" y="108" width="3" height="7" fill="#32cd32"/>
<rect x="391" y="114" width="1" height="43" fill="#32cd32"/>
<rect x="390" y="114" width="3" height="34" fill="#32cd32"/>
<rect x="395" y="146" width="1" height="26" fill="#32cd32"/>
<rect x="394" y="146" width="3" height="13" fill="#32cd32"/>
<rect x="399" y="155" width="1" height="24" fill="#32cd32"/>
<rect x="398" y="158" width="3" height="8" fill="#32cd32"/>
<rect x="403" y="162" width="1" height="4" fill="#ff0000"/>
<rect x="402" y="163" width="3" height="2" fill="#ff0000"/>
<rect x="407" y="149" width="1" height="32" fill="#32cd32"/>
<rect x="406" y="163" width="3" height="14" fill="#32cd32"/>
<rect x="411" y="156" width="1" height="24" fill="#ff0000"/>
<rect x="410" y="163" width="3" height="13" fill="#ff0000"/>
<rect x="411" y="164" width="1" height="11" fill="#ff4800"/>
<rect x="415" y="154" width="1" height="25" fill="#32cd32"/>
<rect x="414" y="163" width="3" height="16" fill="#32cd32"/>
<rect x="419" y="165" width="1" height="37" fill="#32cd32"/>
<rect x="418" y="178" width="3" height="19" fill="#32cd32"/>
<rect x="423" y="193" width="1" height="61" fill="#32cd32"/>
<rect x="422" y="196" width="3" height="49" fill="#32cd32"/>
<rect x="427" y="235" width="1" height="14" fill="#ff0000"/>
<rect x="426" y="235" width="3" height="14" fill="#ff0000"/>
<rect x="427" y="236" width="1" height="12" fill="#ff4800"/>
<rect x="431" y="180" width="1" height="63" fill="#ff0000"/>
<rect x="430" y="193" width="3" height="44" fill="#ff0000"/>
<rect x="431" y="194" width="1" height="42" fill="#ff4800"/>
<rect x="435" y="186" width="1" height="46" fill="#32cd32"/>
<rect x="434" y="192" width="3" height="23" fill="#32cd32"/>
<rect x="439" y="186" width="1" height="35" fill="#ff0000"/>
<rect x="438" y="189" width="3" height="26" fill="#ff0000"/>
<rect x="439" y="190" width="1" height="24" fill="#ff4800"/>
<rect x="443" y="164" width="1" height="50" fill="#32cd32"/>
<rect x="442" y="189" width="3" height="14" fill="#32cd32"/>
<rect x="447" y="202" width="1" height="46" fill="#32cd32"/>
<rect x="446" y="203" width="3" height="44" fill="#32cd32"/>
<rect x="451" y="236" width="1" height="12" fill="#ff0000"/>
<rect x="450" y="240" width="3" height="4" fill="#ff0000"/>
<rect x="451" y="241" width="1" height="2" fill="#ff4800"/>
<rect x="455" y="217" width="1" height="42" fill="#ff0000"/>
<rect x="454" y="232" width="3" height="10" fill="#ff0000"/>
<rect x="455" y="233" width="1" height="8" fill="#ff4800"/>
<rect x="459" y="230" width="1" height="48" fill="#32cd32"/>
<rect x="458" y="232" width="3" height="41" fill="#32cd32"/>
<rect x="463" y="271" width="1" height="40" fill="#32cd32"/>
<rect x="462" y="272" width="3" height="36" fill="#32cd32"/>
<rect x="467" y="298" width="1" height="32" fill="#ff0000"/>
<rect x="466" y="304" width="3" height="3" fill="#ff0000"/>
<rect x="467" y="305" width="1" height="1" fill="#ff4800"/>
<rect x="471" y="276" width="1" height="46" fill="#ff0000"/>
<rect x="470" y="280" width="3" height="25" fill="#ff0000"/>
<rect x="471" y="281" width="1" height="23" fill="#ff4800"/>
<rect x="475" y="282" width="1" height="9" fill="#32cd32"/>
<rect x="474" y="288" width="3" height="3" fill="#32cd32"/>
<rect x="479" y="284" width="1" height="25" fill="#32cd32"/>
<rect x="478" y="289" width="3" height="13" fill="#32cd32"/>
<rect x="483" y="279" width="1" height="36" fill="#32cd32"/>
<rect x="482" y="301" width="3" height="9" fill="#32cd32"/>
<rect x="487" y="297" width="1" height="35" fill="#ff0000"/>
<rect x="486" y="303" width="3" height="7" fill="#ff0000"/>
<rect x="487" y="304" width="1" height="5" fill="#ff4800"/>
<rect x="491" y="301" width="1" height="30" fill="#32cd32"/>
<rect x="490" y="304" width="3" height="5" fill="#32cd32"/>
<rect x="495" y="274" width="1" height="36" fill="#ff0000"/>
<rect x="494" y="275" width="3" height="34" fill="#ff0000"/>
<rect x="495" y="276" width="1" height="32" fill="#ff4800"/>
<rect x="499" y="271" width="1" height="10" fill="#32cd32"/>
<rect x="498" y="272" width="3" height="9" fill="#32cd32"/>
<rect x="503" y="215" width="1" height="69" fill="#ff0000"/>
<rect x="502" y="250" width="3" height="31" fill="#ff0000"/>
<rect x="503" y="251" width="1" height="29" fill="#ff4800"/>
<rect x="507" y="231" width="1" height="32" fill="#32cd32"/>
<rect x="506" y="250" width="3" height="5" fill="#32cd32"/>
<rect x="511" y="222" width="1" height="62" fill="#ff0000"/>
<rect x="510" y="236" width="3" height="19" fill="#ff0000"/>
<rect x="511" y="237" width="1" height="17" fill="#ff4800"/>
<rect x="515" y="194" width="1" height="46" fill="#ff0000"/>
<rect x="514" y="195" width="3" height="42" fill="#ff0000"/>
<rect x="515" y="196" width="1" height="40" fill="#ff4800"/>
<rect x="519" y="172" width="1" height="39" fill="#ff0000"/>
<rect x="518" y="177" width="3" height="19" fill="#ff0000"/>
<rect x="519" y="178" width="1" height="17" fill="#ff4800"/>
<rect x="523" y="181" width="1" height="9" fill="#32cd32"/>
<rect x="522" y="186" width="3" height="4" fill="#32cd32"/>
<rect x="527" y="182" width="1" height="44" fill="#32cd32"/>
<rect x="526" y="189" width="3" height="20" fill="#32cd32"/>
<rect x="531" y="204" width="1" height="34" fill="#32cd32"/>
<rect x="530" y="208" width="3" height="14" fill="#32cd32"/>
<rect x="535" y="214" width="1" height="26" fill="#32cd32"/>
<rect x="534" y="221" width="3" height="2" fill="#32cd32"/>
<rect x="539" y="209" width="1" height="28" fill="#32cd32"/>
<rect x="538" y="222" width="3" height="5" fill="#32cd32"/>
<rect x="543" y="176" width="1" height="58" fill="#ff0000"/>
<rect x="542" y="192" width="3" height="35" fill="#ff0000"/>
<rect x="543" y="193" width="1" height="33" fill="#ff4800"/>
<rect x="547" y="193" width="1" height="3" fill="#32cd32"/>
<rect x="546" y="194" width="3" height="2" fill="#32cd32"/>
<rect x="551" y="191" width="1" height="46" fill="#32cd32"/>
<rect x="550" y="195" width="3" height="38" fill="#32cd32"/>
<rect x="555" y="207" width="1" height="27" fill="#ff0000"/>
<rect x="554" y="213" width="3" height="20" fill="#ff0000"/>
<rect x="555" y="214" width="1" height="18" fill="#ff4800"/>
<rect x="559" y="209" width="1" height="24" fill="#32cd32"/>
<rect x="558" y="214" width="3" height="14" fill="#32cd32"/>
<rect x="563" y="201" width="1" height="46" fill="#ff0000"/>
<rect x="562" y="201" width="3" height="26" fill="#ff0000"/>
<rect x="563" y="202" width="1" height="24" fill="#ff4800"/>
<rect x="567" y="192" width="1" height="39" fill="#ff0000"/>
<rect x="566" y="197" width="3" height="5" fill="#ff0000"/>
<rect x="567" y="198" width="1" height="3" fill="#ff4800"/>
<rect x="571" y="197" width="1" height="10" fill="#32cd32"/>
<rect x="570" y="201" width="3" height="4" fill="#32cd32"/>
<rect x="575" y="178" width="1" height="29" fill="#ff0000"/>
<rect x="574" y="203" width="3" height="3" fill="#ff0000"/>
<rect x="575" y="204" width="1" height="1" fill="#ff4800"/>
<rect x="579" y="182" width="1" height="35" fill="#32cd32"/>
<rect x="578" y="203" width="3" height="3" fill="#32cd32"/>
<rect x="583" y="204" width="1" height="30" fill="#32cd32"/>
<rect x="582" y="205" width="3" height="14" fill="#32cd32"/>
<rect x="587" y="201" width="1" height="27" fill="#ff0000"/>
<rect x="586" y="212" width="3" height="7" fill="#ff0000"/>
<rect x="587" y="213" width="1" height="5" fill="#ff4800"/>
<rect x="591" y="189" width="1" height="40" fill="#ff0000"/>
<rect x="590" y="196" width="3" height="17" fill="#ff0000"/>
<rect x="591" y="197" width="1" height="15" fill="#ff4800"/>
<rect x="595" y="188" width="1" height="5" fill="#ff0000"/>
<rect x="594" y="190" width="3" height="3" fill="#ff0000"/>
<rect x="595" y="191" width="1" height="1" fill="#ff4800"/>
<rect x="599" y="186" width="1" height="21" fill="#ff0000"/>
<rect x="598" y="190" width="3" height="1" fill="#ff0000"/>
<rect x="603" y="178" width="1" height="31" fill="#ff0000"/>
<rect x="602" y="185" width="3" height="6" fill="#ff0000"/>
<rect x="603" y="186" width="1" height="4" fill="#ff4800"/>
<rect x="607" y="185" width="1" height="41" fill="#32cd32"/>
<rect x="606" y="186" width="3" height="16" fill="#32cd32"/>
<rect x="611" y="135" width="1" height="68" fill="#ff0000"/>
<rect x="610" y="167" width="3" height="35" fill="#ff0000"/>
<rect x="611" y="168" width="1" height="33" fill="#ff4800"/>
<rect x="615" y="161" width="1" height="50" fill="#32cd32"/>
<rect x="614" y="167" width="3" height="44" fill="#32cd32"/>
<rect x="619" y="189" width="1" height="9" fill="#ff0000"/>
<rect x="618" y="191" width="3" height="2" fill="#ff0000"/>
<rect x="623" y="166" width="1" height="70" fill="#32cd32"/>
<rect x="622" y="191" width="3" height="41" fill="#32cd32"/>
<rect x="627" y="193" width="1" height="46" fill="#ff0000"/>
<rect x="626" y="204" width="3" height="29" fill="#ff0000"/>
<rect x="627" y="205" width="1" height="27" fill="#ff4800"/>
<rect x="631" y="196" width="1" height="54" fill="#32cd32"/>
<rect x="630" y="204" width="3" height="38" fill="#32cd32"/>
<rect x="635" y="220" width="1" height="49" fill="#ff0000"/>
<rect x="634" y="230" width="3" height="12" fill="#ff0000"/>
<rect x="635" y="231" width="1" height="10" fill="#ff4800"/>
<rect x="639" y="174" width="1" height="57" fill="#ff0000"/>
<rect x="638" y="197" width="3" height="34" fill="#ff0000"/>
<rect x="639" y="198" width="1" height="32" fill="#ff4800"/>
<rect x="643" y="191" width="1" height="20" fill="#32cd32"/>
<rect x="642" y="201" width="3" height="10" fill="#32cd32"/>
<rect x="647" y="161" width="1" height="63" fill="#ff0000"/>
<rect x="646" y="171" width="3" height="39" fill="#ff0000"/>
<rect x="647" y="172" width="1" height="37" fill="#ff4800"/>
<rect x="651" y="124" width="1" height="49" fill="#ff0000"/>
<rect x="650" y="128" width="3" height="43" fill="#ff0000"/>
<rect x="651" y="129" width="1" height="41" fill="#ff4800"/>
<rect x="655" y="127" width="1" height="45" fill="#32cd32"/>
<rect x="654" y="128" width="3" height="44" fill="#32cd32"/>
<rect x="659" y="151" width="1" height="43" fill="#32cd32"/>
<rect x="658" y="171" width="3" height="20" fill="#32cd32"/>
<rect x="663" y="173" width="1" height="47" fill="#32cd32"/>
<rect x="662" y="192" width="3" height="14" fill="#32cd32"/>
<rect x="667" y="199" width="1" height="5" fill="#32cd32"/>
<rect x="666" y="199" width="3" height="2" fill="#32cd32"/>
<rect x="671" y="158" width="1" height="44" fill="#ff0000"/>
<rect x="670" y="161" width="3" height="40" fill="#ff0000"/>
<rect x="671" y="162" width="1" height="38" fill="#ff4800"/>
<rect x="675" y="138" width="1" height="51" fill="#32cd32"/>
<rect x="674" y="160" width="3" height="25" fill="#32cd32"/>
<rect x="679" y="181" width="1" height="48" fill="#32cd32"/>
<rect x="678" y="184" width="3" height="39" fill="#32cd32"/>
<rect x="683" y="217" width="1" height="40" fill="#32cd32"/>
<rect x="682" y="222" width="3" height="26" fill="#32cd32"/>
<rect x="687" y="241" width="1" height="24" fill="#32cd32"/>
<rect x="686" y="248" width="3" height="15" fill="#32cd32"/>
<rect x="691" y="259" width="1" height="6" fill="#ff0000"/>
<rect x="690" y="259" width="3" height="3" fill="#ff0000"/>
<rect x="691" y="260" width="1" height="1" fill="#ff4800"/>
<rect x="695" y="252" width="1" height="27" fill="#32cd32"/>
<rect x="694" y="259" width="3" height="9" fill="#32cd32"/>
<rect x="699" y="251" width="1" height="28" fill="#32cd32"/>
<rect x="698" y="267" width="3" height="4" fill="#32cd32"/>
<rect x="703" y="260" width="1" height="30" fill="#32cd32"/>
<rect x="702" y="270" width="3" height="12" fill="#32cd32"/>
<rect x="707" y="268" width="1" height="36" fill="#32cd32"/>
<rect x="706" y="281" width="3" height="18" fill="#32cd32"/>
<rect x="711" y="284" width="1" height="39" fill="#32cd32"/>
<rect x="710" y="298" width="3" height="24" fill="#32cd32"/>
<rect x="715" y="314" width="1" height="5" fill="#ff0000"/>
<rect x="714" y="314" width="3" height="2" fill="#ff0000"/>
<rect x="719" y="266" width="1" height="55" fill="#ff0000"/>
<rect x="718" y="298" width="3" height="17" fill="#ff0000"/>
<rect x="719" y="299" width="1" height="15" fill="#ff4800"/>
<rect x="723" y="294" width="1" height="29" fill="#32cd32"/>
<rect x="722" y="298" width="3" height="12" fill="#32cd32"/>
<rect x="727" y="304" width="1" height="37" fill="#32cd32"/>
<rect x="726" y="308" width="3" height="9" fill="#32cd32"/>
<rect x="731" y="293" width="1" height="32" fill="#ff0000"/>
<rect x="730" y="307" width="3" height="9" fill="#ff0000"/>
<rect x="731" y="308" width="1" height="7" fill="#ff4800"/>
<rect x="735" y="290" width="1" height="28" fill="#ff0000"/>
<rect x="734" y="304" width="3" height="4" fill="#ff0000"/>
<rect x="735" y="305" width="1" height="2" fill="#ff4800"/>
<rect x="739" y="296" width="1" height="3" fill="#ff0000"/>
<rect x="738" y="297" width="3" height="1" fill="#ff0000"/>
<rect x="743" y="295" width="1" height="29" fill="#32cd32"/>
<rect x="742" y="296" width="3" height="19" fill="#32cd32"/>
<rect x="747" y="309" width="1" height="45" fill="#32cd32"/>
<rect x="746" y="314" width="3" height="2" fill="#32cd32"/>
<rect x="751" y="278" width="1" height="41" fill="#ff0000"/>
<rect x="750" y="279" width="3" height="37" fill="#ff0000"/>
<rect x="751" y="280" width="1" height="35" fill="#ff4800"/>
<rect x="755" y="257" width="1" height="35" fill="#ff0000"/>
<rect x="754" y="268" width="3" height="12" fill="#ff0000"/>
<rect x="755" y="269" width="1" height="10" fill="#ff4800"/>
<rect x="759" y="253" width="1" height="26" fill="#32cd32"/>
<rect x="758" y="268" width="3" height="10" fill="#32cd32"/>
<rect x="763" y="271" width="1" height="8" fill="#ff0000"/>
<rect x="762" y="271" width="3" height="7" fill="#ff0000"/>
<rect x="763" y="272" width="1" height="5" fill="#ff4800"/>
<rect x="767" y="242" width="1" height="34" fill="#ff0000"/>
<rect x="766" y="244" width="3" height="28" fill="#ff0000"/>
<rect x="767" y="245" width="1" height="26" fill="#ff4800"/>
<rect x="771" y="234" width="1" height="38" fill="#32cd32"/>
<rect x="770" y="244" width="3" height="3" fill="#32cd32"/>
<rect x="775" y="227" width="1" height="57" fill="#32cd32"/>
<rect x="774" y="246" width="3" height="32" fill="#32cd32"/>
<rect x="779" y="243" width="1" height="56" fill="#ff0000"/>
<rect x="778" y="259" width="3" height="19" fill="#ff0000"/>
<rect x="779" y="260" width="1" height="17" fill="#ff4800"/>
<rect x="783" y="253" width="1" height="15" fill="#32cd32"/>
<rect x="782" y="259" width="3" height="1" fill="#32cd32"/>
<rect x="787" y="255" width="1" height="4" fill="#ff0000"/>
<rect x="786" y="256" width="3" height="2" fill="#ff0000"/>
<rect x="791" y="242" width="1" height="21" fill="#32cd32"/>
<rect x="790" y="256" width="3" height="7" fill="#32cd32"/>
<rect x="795" y="241" width="1" height="37" fill="#ff0000"/>
<rect x="794" y="260" width="3" height="2" fill="#ff0000"/>
<rect x="799" y="251" width="1" height="71" fill="#32cd32"/>
<rect x="798" y="260" width="3" height="55" fill="#32cd32"/>
<rect x="803" y="266" width="1" height="62" fill="#ff0000"/>
<rect x="802" y="266" width="3" height="49" fill="#ff0000"/>
<rect x="803" y="267" width="1" height="47" fill="#ff4800"/>
<rect x="807" y="205" width="1" height="65" fill="#ff0000"/>
<rect x="806" y="207" width="3" height="59" fill="#ff0000"/>
<rect x="807" y="208" width="1" height="57" fill="#ff4800"/>
<rect x="811" y="205" width="1" height="5" fill="#ff0000"/>
<rect x="810" y="206" width="3" height="4" fill="#ff0000"/>
<rect x="811" y="207" width="1" height="2" fill="#ff4800"/>
<rect x="815" y="181" width="1" height="29" fill="#ff0000"/>
<rect x="814" y="199" width="3" height="7" fill="#ff0000"/>
<rect x="815" y="200" width="1" height="5" fill="#ff4800"/>
<rect x="819" y="158" width="1" height="66" fill="#ff0000"/>
<rect x="818" y="167" width="3" height="33" fill="#ff0000"/>
<rect x="819" y="168" width="1" height="31" fill="#ff4800"/>
<rect x="823" y="146" width="1" height="36" fill="#ff0000"/>
<rect x="822" y="164" width="3" height="4" fill="#ff0000"/>
<rect x="823" y="165" width="1" height="2" fill="#ff4800"/>
<rect x="827" y="134" width="1" height="42" fill="#32cd32"/>
<rect x="826" y="163" width="3" height="7" fill="#32cd32"/>
<rect x="831" y="154" width="1" height="55" fill="#ff0000"/>
<rect x="830" y="155" width="3" height="15" fill="#ff0000"/>
<rect x="831" y="156" width="1" height="13" fill="#ff4800"/>
<rect x="835" y="145" width="1" height="7" fill="#ff0000"/>
<rect x="834" y="145" width="3" height="5" fill="#ff0000"/>
<rect x="835" y="146" width="1" height="3" fill="#ff4800"/>
<rect x="839" y="118" width="1" height="32" fill="#ff0000"/>
<rect x="838" y="138" width="3" height="9" fill="#ff0000"/>
<rect x="839" y="139" width="1" height="7" fill="#ff4800"/>
<rect x="843" y="127" width="1" height="33" fill="#32cd32"/>
<rect x="842" y="138" width="3" height="18" fill="#32cd32"/>
<rect x="847" y="146" width="1" height="60" fill="#32cd32"/>
<rect x="846" y="155" width="3" height="45" fill="#32cd32"/>
<rect x="851" y="139" width="1" height="72" fill="#ff0000"/>
<rect x="850" y="158" width="3" height="42" fill="#ff0000"/>
<rect x="851" y="159" width="1" height="40" fill="#ff4800"/>
<rect x="855" y="120" width="1" height="45" fill="#ff0000"/>
<rect x="854" y="122" width="3" height="37" fill="#ff0000"/>
<rect x="855" y="123" width="1" height="35" fill="#ff4800"/>
<rect x="859" y="115" width="1" height="5" fill="#ff0000"/>
<rect x="858" y="116" width="3" height="2" fill="#ff0000"/>
<rect x="863" y="70" width="1" height="52" fill="#ff0000"/>
<rect x="862" y="74" width="3" height="43" fill="#ff0000"/>
<rect x="863" y="75" width="1" height="41" fill="#ff4800"/>
<rect x="867" y="55" width="1" height="42" fill="#ff0000"/>
<rect x="866" y="64" width="3" height="11" fill="#ff0000"/>
<rect x="867" y="65" width="1" height="9" fill="#ff4800"/>
<rect x="871" y="61" width="1" height="55" fill="#32cd32"/>
<rect x="870" y="62" width="3" height="20" fill="#32cd32"/>
<rect x="875" y="44" width="1" height="46" fill="#ff0000"/>
<rect x="874" y="67" width="3" height="14" fill="#ff0000"/>
<rect x="875" y="68" width="1" height="12" fill="#ff4800"/>
<rect x="879" y="64" width="1" height="55" fill="#32cd32"/>
<rect x="878" y="67" width="3" height="45" fill="#32cd32"/>
<rect x="883" y="116" width="1" height="9" fill="#32cd32"/>
<rect x="882" y="118" width="3" height="5" fill="#32cd32"/>
<rect x="887" y="87" width="1" height="68" fill="#32cd32"/>
<rect x="886" y="123" width="3" height="26" fill="#32cd32"/>
<rect x="891" y="144" width="1" height="26" fill="#32cd32"/>
<rect x="890" y="148" width="3" height="21" fill="#32cd32"/>
<rect x="895" y="129" width="1" height="45" fill="#ff0000"/>
<rect x="894" y="130" width="3" height="37" fill="#ff0000"/>
<rect x="895" y="131" width="1" height="35" fill="#ff4800"/>
<rect x="899" y="131" width="1" height="48" fill="#32cd32"/>
<rect x="898" y="132" width="3" height="31" fill="#32cd32"/>
<rect x="903" y="139" width="1" height="43" fill="#ff0000"/>
<rect x="902" y="147" width="3" height="16" fill="#ff0000"/>
<rect x="903" y="148" width="1" height="14" fill="#ff4800"/>
<rect x="907" y="159" width="1" height="7" fill="#32cd32"/>
<rect x="906" y="159" width="3" height="5" fill="#32cd32"/>
<rect x="911" y="162" width="1" height="26" fill="#32cd32"/>
<rect x="910" y="163" width="3" height="14" fill="#32cd32"/>
<rect x="915" y="137" width="1" height="44" fill="#ff0000"/>
<rect x="914" y="160" width="3" height="17" fill="#ff0000"/>
<rect x="915" y="161" width="1" height="15" fill="#ff4800"/>
<rect x="919" y="132" width="1" height="38" fill="#32cd32"/>
<rect x="918" y="159" width="3" height="3" fill="#32cd32"/>
<rect x="923" y="148" width="1" height="38" fill="#32cd32"/>
<rect x="922" y="162" width="3" height="22" fill="#32cd32"/>
<rect x="3" y="448" width="2" height="8" fill="#c0c0c0"/>
<rect x="6" y="449" width="3" height="7" fill="#c0c0c0"/>
<rect x="10" y="452" width="3" height="4" fill="#c0c0c0"/>
<rect x="14" y="455" width="3" height="1" fill="#c0c0c0"/>
<rect x="18" y="456" width="3" height="2" fill="#c0c0c0"/>
<rect x="22" y="456" width="3" height="4" fill="#c0c0c0"/>
<rect x="26" y="456" width="3" height="2" fill="#c0c0c0"/>
<rect x="30" y="454" width="3" height="2" fill="#c0c0c0"/>
<rect x="34" y="454" width="3" height="2" fill="#c0c0c0"/>
<rect x="38" y="453" width="3" height="3" fill="#c0c0c0"/>
<rect x="42" y="450" width="3" height="6" fill="#c0c0c0"/>
<rect x="46" y="450" width="3" height="6" fill="#c0c0c0"/>
<rect x="50" y="449" width="3" height="7" fill="#c0c0c0"/>
<rect x="54" y="450" width="3" height="6" fill="#c0c0c0"/>
<rect x="58" y="450" width="3" height="6" fill="#c0c0c0"/>
<rect x="62" y="447" width="3" height="9" fill="#c0c0c0"/>
<rect x="66" y="445" width="3" height="11" fill="#c0c0c0"/>
<rect x="70" y="442" width="3" height="14" fill="#c0c0c0"/>
<rect x="74" y="440" width="3" height="16" fill="#c0c0c0"/>
<rect x="78" y="439" width="3" height="17" fill="#c0c0c0"/>
<rect x="82" y="442" width="3" height="14" fill="#c0c0c0"/>
<rect x="86" y="445" width="3" height="11" fill="#c0c0c0"/>
<rect x="90" y="447" width="3" height="9" fill="#c0c0c0"/>
<rect x="94" y="450" width="3" height="6" fill="#c0c0c0"/>
<rect x="98" y="451" width="3" height="5" fill="#c0c0c0"/>
<rect x="102" y="449" width="3" height="7" fill="#c0c0c0"/>
<rect x="106" y="450" width="3" height="6" fill="#c0c0c0"/>
<rect x="110" y="452" width="3" height="4" fill="#c0c0c0"/>
<rect x="114" y="454" width="3" height="2" fill="#c0c0c0"/>
<rect x="118" y="456" width="3" height="2" fill="#c0c0c0"/>
<rect x="122" y="456" width="3" height="4" fill="#c0c0c0"/>
<rect x="126" y="456" width="3" height="6" fill="#c0c0c0"/>
<rect x="130" y="456" width="3" height="8" fill="#c0c0c0"/>
<rect x="134" y="456" width="3" height="12" fill="#c0c0c0"/>
<rect x="138" y="456" width="3" height="15" fill="#c0c0c0"/>
<rect x="142" y="456" width="3" height="16" fill="#c0c0c0"/>
<rect x="146" y="456" width="3" height="17" fill="#c0c0c0"/>
<rect x="150" y="456" width="3" height="19" fill="#c0c0c0"/>
<rect x="154" y="456" width="3" height="23" fill="#c0c0c0"/>
<rect x="158" y="456" width="3" height="25" fill="#c0c0c0"/>
<rect x="162" y="456" width="3" height="27" fill="#c0c0c0"/>
<rect x="166" y="456" width="3" height="28" fill="#c0c0c0"/>
<rect x="170" y="456" width="3" height="29" fill="#c0c0c0"/>
<rect x="174" y="456" width="3" height="30" fill="#c0c0c0"/>
<rect x="178" y="456" width="3" height="30" fill="#c0c0c0"/>
<rect x="182" y="456" width="3" height="29" fill="#c0c0c0"/>
<rect x="186" y="456" width="3" height="27" fill="#c0c0c0"/>
<rect x="190" y="456" width="3" height="27" fill="#c0c0c0"/>
<rect x="194" y="456" width="3" height="25" fill="#c0c0c0"/>
<rect x="198" y="456" width="3" height="24" fill="#c0c0c0"/>
<rect x="202" y="456" width="3" height="23" fill="#c0c0c0"/>
<rect x="206" y="456" width="3" height="22" fill="#c0c0c0"/>
<rect x="210" y="456" width="3" height="20" fill="#c0c0c0"/>
<rect x="214" y="456" width="3" height="19" fill="#c0c0c0"/>
<rect x="218" y="456" width="3" height="17" fill="#c0c0c0"/>
<rect x="222" y="456" width="3" height="16" fill="#c0c0c0"/>
<rect x="226" y="456" width="3" height="13" fill="#c0c0c0"/>
<rect x="230" y="456" width="3" height="11" fill="#c0c0c0"/>
<rect x="234" y="456" width="3" height="8" fill="#c0c0c0"/>
<rect x="238" y="456" width="3" height="8" fill="#c0c0c0"/>
<rect x="242" y="456" width="3" height="7" fill="#c0c0c0"/>
<rect x="246" y="456" width="3" height="4" fill="#c0c0c0"/>
<rect x="250" y="454" width="3" height="2" fill="#c0c0c0"/>
<rect x="254" y="452" width="3" height="4" fill="#c0c0c0"/>
<rect x="258" y="450" width="3" height="6" fill="#c0c0c0"/>
<rect x="262" y="449" width="3" height="7" fill="#c0c0c0"/>
<rect x="266" y="448" width="3" height="8" fill="#c0c0c0"/>
<rect x="270" y="445" width="3" height="11" fill="#c0c0c0"/>
<rect x="274" y="443" width="3" height="13" fill="#c0c0c0"/>
<rect x="278" y="441" width="3" height="15" fill="#c0c0c0"/>
<rect x="282" y="439" width="3" height="17" fill="#c0c0c0"/>
<rect x="286" y="436" width="3" height="20" fill="#c0c0c0"/>
<rect x="290" y="435" width="3" height="21" fill="#c0c0c0"/>
<rect x="294" y="435" width="3" height="21" fill="#c0c0c0"/>
<rect x="298" y="435" width="3" height="21" fill="#c0c0c0"/>
<rect x="302" y="432" width="3" height="24" fill="#c0c0c0"/>
<rect x="306" y="431" width="3" height="25" fill="#c0c0c0"/>
<rect x="310" y="431" width="3" height="25" fill="#c0c0c0"/>
<rect x="314" y="430" width="3" height="26" fill="#c0c0c0"/>
<rect x="318" y="428" width="3" height="28" fill="#c0c0c0"/>
<rect x="322" y="427" width="3" height="29" fill="#c0c0c0"/>
<rect x="326" y="426" width="3" height="30" fill="#c0c0c0"/>
<rect x="330" y="426" width="3" height="30" fill="#c0c0c0"/>
<rect x="334" y="428" width="3" height="28" fill="#c0c0c0"/>
<rect x="338" y="433" width="3" height="23" fill="#c0c0c0"/>
<rect x="342" y="437" width="3" height="19" fill="#c0c0c0"/>
<rect x="346" y="439" width="3" height="17" fill="#c0c0c0"/>
<rect x="350" y="440" width="3" height="16" fill="#c0c0c0"/>
<rect x="354" y="441" width="3" height="15" fill="#c0c0c0"/>
<rect x="358" y="440" width="3" height="16" fill="#c0c0c0"/>
<rect x="362" y="438" width="3" height="18" fill="#c0c0c0"/>
<rect x="366" y="437" width="3" height="19" fill="#c0c0c0"/>
<rect x="370" y="438" width="3" height="18" fill="#c0c0c0"/>
<rect x="374" y="436" width="3" height="20" fill="#c0c0c0"/>
<rect x="378" y="434" width="3" height="22" fill="#c0c0c0"/>
<rect x="382" y="432" width="3" height="24" fill="#c0c0c0"/>
<rect x="386" y="431" width="3" height="25" fill="#c0c0c0"/>
<rect x="390" y="433" width="3" height="23" fill="#c0c0c0"/>
<rect x="394" y="435" width="3" height="21" fill="#c0c0c0"/>
<rect x="398" y="437" width="3" height="19" fill="#c0c0c0"/>
<rect x="402" y="439" width="3" height="17" fill="#c0c0c0"/>
<rect x="406" y="442" width="3" height="14" fill="#c0c0c0"/>
<rect x="410" y="443" width="3" height="13" fill="#c0c0c0"/>
<rect x="414" y="445" width="3" height="11" fill="#c0c0c0"/>
<rect x="418" y="448" width="3" height="8" fill="#c0c0c0"/>
<rect x="422" y="454" width="3" height="2" fill="#c0c0c0"/>
<rect x="426" y="456" width="3" height="2" fill="#c0c0c0"/>
<rect x="430" y="456" width="3" height="2" fill="#c0c0c0"/>
<rect x="434" y="456" width="3" height="4" fill="#c0c0c0"/>
<rect x="438" y="456" width="3" height="4" fill="#c0c0c0"/>
<rect x="442" y="456" width="3" height="4" fill="#c0c0c0"/>
<rect x="446" y="456" width="3" height="7" fill="#c0c0c0"/>
<rect x="450" y="456" width="3" height="9" fill="#c0c0c0"/>
<rect x="454" y="456" width="3" height="10" fill="#c0c0c0"/>
<rect x="458" y="456" width="3" height="13" fill="#c0c0c0"/>
<rect x="462" y="456" width="3" height="17" fill="#c0c0c0"/>
<rect x="466" y="456" width="3" height="21" fill="#c0c0c0"/>
<rect x="470" y="456" width="3" height="21" fill="#c0c0c0"/>
<rect x="474" y="456" width="3" height="23" fill="#c0c0c0"/>
<rect x="478" y="456" width="3" height="24" fill="#c0c0c0"/>
<rect x="482" y="456" width="3" height="25" fill="#c0c0c0"/>
<rect x="486" y="456" width="3" height="25" fill="#c0c0c0"/>
<rect x="490" y="456" width="3" height="26" fill="#c0c0c0"/>
<rect x="494" y="456" width="3" height="23" fill="#c0c0c0"/>
<rect x="498" y="456" width="3" height="22" fill="#c0c0c0"/>
<rect x="502" y="456" width="3" height="18" fill="#c0c0c0"/>
<rect x="506" y="456" width="3" height="16" fill="#c0c0c0"/>
<rect x="510" y="456" width="3" height="13" fill="#c0c0c0"/>
<rect x="514" y="456" width="3" height="7" fill="#c0c0c0"/>
<rect x="518" y="456" width="3" height="2" fill="#c0c0c0"/>
<rect x="522" y="454" width="3" height="2" fill="#c0c0c0"/>
<rect x="526" y="452" width="3" height="4" fill="#c0c0c0"/>
<rect x="530" y="452" width="3" height="4" fill="#c0c0c0"/>
<rect x="534" y="452" width="3" height="4" fill="#c0c0c0"/>
<rect x="538" y="452" width="3" height="4" fill="#c0c0c0"/>
<rect x="542" y="450" width="3" height="6" fill="#c0c0c0"/>
<rect x="546" y="449" width="3" height="7" fill="#c0c0c0"/>
<rect x="550" y="450" width="3" height="6" fill="#c0c0c0"/>
<rect x="554" y="450" width="3" height="6" fill="#c0c0c0"/>
<rect x="558" y="451" width="3" height="5" fill="#c0c0c0"/>
<rect x="562" y="450" width="3" height="6" fill="#c0c0c0"/>
<rect x="566" y="450" width="3" height="6" fill="#c0c0c0"/>
<rect x="570" y="450" width="3" height="6" fill="#c0c0c0"/>
<rect x="574" y="449" width="3" height="7" fill="#c0c0c0"/>
<rect x="578" y="449" width="3" height="7" fill="#c0c0c0"/>
<rect x="582" y="450" width="3" height="6" fill="#c0c0c0"/>
<rect x="586" y="450" width="3" height="6" fill="#c0c0c0"/>
<rect x="590" y="450" width="3" height="6" fill="#c0c0c0"/>
<rect x="594" y="450" width="3" height="6" fill="#c0c0c0"/>
<rect x="598" y="449" width="3" height="7" fill="#c0c0c0"/>
<rect x="602" y="449" width="3" height="7" fill="#c0c0c0"/>
<rect x="606" y="449" width="3" height="7" fill="#c0c0c0"/>
<rect x="610" y="448" width="3" height="8" fill="#c0c0c0"/>
<rect x="614" y="449" width="3" height="7" fill="#c0c0c0"/>
<rect x="618" y="450" width="3" height="6" fill="#c0c0c0"/>
<rect x="622" y="452" width="3" height="4" fill="#c0c0c0"/>
<rect x="626" y="452" width="3" height="4" fill="#c0c0c0"/>
<rect x="630" y="455" width="3" height="1" fill="#c0c0c0"/>
<rect x="634" y="456" width="3" height="1" fill="#c0c0c0"/>
<rect x="638" y="456" width="3" height="1" fill="#c0c0c0"/>
<rect x="642" y="456" width="3" height="1" fill="#c0c0c0"/>
<rect x="646" y="454" width="3" height="2" fill="#c0c0c0"/>
<rect x="650" y="449" width="3" height="7" fill="#c0c0c0"/>
<rect x="654" y="448" width="3" height="8" fill="#c0c0c0"/>
<rect x="658" y="449" width="3" height="7" fill="#c0c0c0"/>
<rect x="662" y="450" width="3" height="6" fill="#c0c0c0"/>
<rect x="666" y="451" width="3" height="5" fill="#c0c0c0"/>
<rect x="670" y="450" width="3" height="6" fill="#c0c0c0"/>
<rect x="674" y="450" width="3" height="6" fill="#c0c0c0"/>
<rect x="678" y="453" width="3" height="3" fill="#c0c0c0"/>
<rect x="682" y="456" width="3" height="1" fill="#c0c0c0"/>
<rect x="686" y="456" width="3" height="5" fill="#c0c0c0"/>
<rect x="690" y="456" width="3" height="8" fill="#c0c0c0"/>
<rect x="694" y="456" width="3" height="10" fill="#c0c0c0"/>
<rect x="698" y="456" width="3" height="13" fill="#c0c0c0"/>
<rect x="702" y="456" width="3" height="15" fill="#c0c0c0"/>
<rect x="706" y="456" width="3" height="17" fill="#c0c0c0"/>
<rect x="710" y="456" width="3" height="21" fill="#c0c0c0"/>
<rect x="714" y="456" width="3" height="23" fill="#c0c0c0"/>
<rect x="718" y="456" width="3" height="23" fill="#c0c0c0"/>
<rect x="722" y="456" width="3" height="24" fill="#c0c0c0"/>
<rect x="726" y="456" width="3" height="24" fill="#c0c0c0"/>
<rect x="730" y="456" width="3" height="24" fill="#c0c0c0"/>
<rect x="734" y="456" width="3" height="23" fill="#c0c0c0"/>
<rect x="738" y="456" width="3" height="22" fill="#c0c0c0"/>
<rect x="742" y="456" width="3" height="23" fill="#c0c0c0"/>
<rect x="746" y="456" width="3" height="22" fill="#c0c0c0"/>
<rect x="750" y="456" width="3" height="19" fill="#c0c0c0"/>
<rect x="754" y="456" width="3" height="16" fill="#c0c0c0"/>
<rect x="758" y="456" width="3" height="14" fill="#c0c0c0"/>
<rect x="762" y="456" width="3" height="12" fill="#c0c0c0"/>
<rect x="766" y="456" width="3" height="9" fill="#c0c0c0"/>
<rect x="770" y="456" width="3" height="6" fill="#c0c0c0"/>
<rect x="774" y="456" width="3" height="6" fill="#c0c0c0"/>
<rect x="778" y="456" width="3" height="5" fill="#c0c0c0"/>
<rect x="782" y="456" width="3" height="3" fill="#c0c0c0"/>
<rect x="786" y="456" width="3" height="2" fill="#c0c0c0"/>
<rect x="790" y="456" width="3" height="2" fill="#c0c0c0"/>
<rect x="794" y="456" width="3" height="1" fill="#c0c0c0"/>
<rect x="798" y="456" width="3" height="3" fill="#c0c0c0"/>
<rect x="802" y="456" width="3" height="3" fill="#c0c0c0"/>
<rect x="806" y="455" width="3" height="1" fill="#c0c0c0"/>
<rect x="810" y="451" width="3" height="5" fill="#c0c0c0"/>
<rect x="814" y="448" width="3" height="8" fill="#c0c0c0"/>
<rect x="818" y="444" width="3" height="12" fill="#c0c0c0"/>
<rect x="822" y="441" width="3" height="15" fill="#c0c0c0"/>
<rect x="826" y="438" width="3" height="18" fill="#c0c0c0"/>
<rect x="830" y="436" width="3" height="20" fill="#c0c0c0"/>
<rect x="834" y="434" width="3" height="22" fill="#c0c0c0"/>
<rect x="838" y="432" width="3" height="24" fill="#c0c0c0"/>
<rect x="842" y="432" width="3" height="24" fill="#c0c0c0"/>
<rect x="846" y="435" width="3" height="21" fill="#c0c0c0"/>
<rect x="850" y="435" width="3" height="21" fill="#c0c0c0"/>
<rect x="854" y="433" width="3" height="23" fill="#c0c0c0"/>
<rect x="858" y="431" width="3" height="25" fill="#c0c0c0"/>
<rect x="862" y="427" width="3" height="29" fill="#c0c0c0"/>
<rect x="866" y="424" width="3" height="32" fill="#c0c0c0"/>
<rect x="870" y="423" width="3" height="33" fill="#c0c0c0"/>
<rect x="874" y="422" width="3" height="34" fill="#c0c0c0"/>
<rect x="878" y="424" width="3" height="32" fill="#c0c0c0"/>
<rect x="882" y="428" width="3" height="28" fill="#c0c0c0"/>
<rect x="886" y="431" width="3" height="25" fill="#c0c0c0"/>
<rect x="890" y="435" width="3" height="21" fill="#c0c0c0"/>
<rect x="894" y="437" width="3" height="19" fill="#c0c0c0"/>
<rect x="898" y="440" width="3" height="16" fill="#c0c0c0"/>
<rect x="902" y="442" width="3" height="14" fill="#c0c0c0"/>
<rect x="906" y="445" width="3" height="11" fill="#c0c0c0"/>
<rect x="910" y="448" width="3" height="8" fill="#c0c0c0"/>
<rect x="914" y="450" width="3" height="6" fill="#c0c0c0"/>
<rect x="918" y="451" width="3" height="5" fill="#c0c0c0"/>
<rect x="922" y="453" width="3" height="3" fill="#c0c0c0"/>
<path d="M879 427h16v1h-16zM874 428h5v1h-5zM895 428h4v1h-4zM332 429h12v1h-12zM871 429h3v1h-3zM899 429h2v1h-2zM327 430h5v1h-5zM344 430h5v1h-5zM868 430h3v1h-3zM901 430h2v1h-2zM325 431h2v1h-2zM349 431h2v1h-2zM866 431h2v1h-2zM903 431h1v1h-1zM322 432h3v1h-3zM351 432h2v1h-2zM864 432h2v1h-2zM904 432h1v1h-1zM318 433h4v1h-4zM353 433h3v1h-3zM859 433h5v1h-5zM905 433h2v1h-2zM313 434h5v1h-5zM356 434h2v1h-2zM854 434h5v1h-5zM907 434h1v1h-1zM310 435h3v1h-3zM358 435h3v1h-3zM390 435h21v1h-21zM851 435h3v1h-3zM908 435h2v1h-2zM307 436h3v1h-3zM361 436h3v1h-3zM385 436h5v1h-5zM411 436h4v1h-4zM849 436h2v1h-2zM910 436h1v1h-1zM305 437h2v1h-2zM364 437h4v1h-4zM381 437h4v1h-4zM415 437h2v1h-2zM847 437h2v1h-2zM911 437h2v1h-2zM302 438h3v1h-3zM368 438h13v1h-13zM417 438h2v1h-2zM845 438h2v1h-2zM913 438h2v1h-2zM299 439h3v1h-3zM419 439h1v1h-1zM843 439h2v1h-2zM915 439h1v1h-1zM3 440h1v1h-1zM297 440h2v1h-2zM420 440h2v1h-2zM841 440h2v1h-2zM916 440h2v1h-2zM4 441h2v1h-2zM294 441h3v1h-3zM422 441h2v1h-2zM839 441h2v1h-2zM918 441h1v1h-1zM6 442h2v1h-2zM292 442h2v1h-2zM424 442h1v1h-1zM838 442h1v1h-1zM919 442h1v1h-1zM8 443h2v1h-2zM290 443h2v1h-2zM425 443h2v1h-2zM836 443h2v1h-2zM920 443h2v1h-2zM10 444h2v1h-2zM87 444h15v1h-15zM288 444h2v1h-2zM427 444h1v1h-1zM835 444h1v1h-1zM922 444h1v1h-1zM12 445h3v1h-3zM81 445h6v1h-6zM102 445h6v1h-6zM286 445h2v1h-2zM428 445h2v1h-2zM834 445h1v1h-1zM15 446h2v1h-2zM77 446h4v1h-4zM108 446h3v1h-3zM284 446h2v1h-2zM430 446h2v1h-2zM832 446h2v1h-2zM17 447h2v1h-2zM73 447h4v1h-4zM111 447h3v1h-3zM282 447h2v1h-2zM432 447h1v1h-1zM831 447h1v1h-1zM19 448h2v1h-2zM71 448h2v1h-2zM114 448h2v1h-2zM280 448h2v1h-2zM433 448h2v1h-2zM829 448h2v1h-2zM21 449h2v1h-2zM68 449h3v1h-3zM116 449h2v1h-2zM278 449h2v1h-2zM435 449h1v1h-1zM609 449h17v1h-17zM827 449h2v1h-2zM23 450h2v1h-2zM65 450h3v1h-3zM118 450h3v1h-3zM276 450h2v1h-2zM436 450h1v1h-1zM560 450h49v1h-49zM626 450h10v1h-10zM677 450h7v1h-7zM825 450h2v1h-2zM25 451h2v1h-2zM61 451h4v1h-4zM121 451h2v1h-2zM275 451h1v1h-1zM437 451h2v1h-2zM551 451h9v1h-9zM636 451h3v1h-3zM669 451h8v1h-8zM684 451h2v1h-2zM823 451h2v1h-2zM27 452h2v1h-2zM56 452h5v1h-5zM123 452h3v1h-3zM273 452h2v1h-2zM439 452h2v1h-2zM547 452h4v1h-4zM639 452h4v1h-4zM661 452h8v1h-8zM686 452h3v1h-3zM822 452h1v1h-1zM29 453h6v1h-6zM52 453h4v1h-4zM126 453h3v1h-3zM272 453h1v1h-1zM441 453h2v1h-2zM545 453h2v1h-2zM643 453h18v1h-18zM689 453h3v1h-3zM820 453h2v1h-2zM35 454h17v1h-17zM129 454h2v1h-2zM270 454h2v1h-2zM443 454h2v1h-2zM543 454h2v1h-2zM692 454h2v1h-2zM818 454h2v1h-2zM131 455h3v1h-3zM268 455h2v1h-2zM445 455h2v1h-2zM542 455h1v1h-1zM694 455h3v1h-3zM816 455h2v1h-2zM134 456h2v1h-2zM265 456h3v1h-3zM447 456h2v1h-2zM540 456h2v1h-2zM697 456h3v1h-3zM813 456h3v1h-3zM136 457h1v1h-1zM263 457h2v1h-2zM449 457h2v1h-2zM539 457h1v1h-1zM700 457h2v1h-2zM809 457h4v1h-4zM137 458h2v1h-2zM261 458h2v1h-2zM451 458h2v1h-2zM538 458h1v1h-1zM702 458h2v1h-2zM804 458h5v1h-5zM139 459h1v1h-1zM259 459h2v1h-2zM453 459h2v1h-2zM536 459h2v1h-2zM704 459h1v1h-1zM798 459h6v1h-6zM140 460h1v1h-1zM257 460h2v1h-2zM455 460h2v1h-2zM535 460h1v1h-1zM705 460h1v1h-1zM793 460h5v1h-5zM141 461h2v1h-2zM255 461h2v1h-2zM457 461h2v1h-2zM534 461h1v1h-1zM706 461h2v1h-2zM791 461h2v1h-2zM143 462h1v1h-1zM253 462h2v1h-2zM459 462h2v1h-2zM532 462h2v1h-2zM708 462h1v1h-1zM788 462h3v1h-3zM144 463h2v1h-2zM252 463h1v1h-1zM461 463h2v1h-2zM531 463h1v1h-1zM709 463h1v1h-1zM786 463h2v1h-2zM146 464h2v1h-2zM250 464h2v1h-2zM463 464h2v1h-2zM530 464h1v1h-1zM710 464h1v1h-1zM784 464h2v1h-2zM148 465h2v1h-2zM248 465h2v1h-2zM465 465h2v1h-2zM528 465h2v1h-2zM711 465h1v1h-1zM782 465h2v1h-2zM150 466h2v1h-2zM247 466h1v1h-1zM467 466h3v1h-3zM527 466h1v1h-1zM712 466h2v1h-2zM780 466h2v1h-2zM152 467h2v1h-2zM245 467h2v1h-2zM470 467h2v1h-2zM526 467h1v1h-1zM714 467h1v1h-1zM778 467h2v1h-2zM154 468h2v1h-2zM243 468h2v1h-2zM472 468h2v1h-2zM524 468h2v1h-2zM715 468h1v1h-1zM775 468h3v1h-3zM156 469h2v1h-2zM241 469h2v1h-2zM474 469h3v1h-3zM523 469h1v1h-1zM716 469h2v1h-2zM773 469h2v1h-2zM158 470h2v1h-2zM238 470h3v1h-3zM477 470h2v1h-2zM522 470h1v1h-1zM718 470h2v1h-2zM771 470h2v1h-2zM160 471h1v1h-1zM236 471h2v1h-2zM479 471h2v1h-2zM520 471h2v1h-2zM720 471h2v1h-2zM769 471h2v1h-2zM161 472h2v1h-2zM233 472h3v1h-3zM481 472h2v1h-2zM519 472h1v1h-1zM722 472h3v1h-3zM766 472h3v1h-3zM163 473h1v1h-1zM230 473h3v1h-3zM483 473h1v1h-1zM517 473h2v1h-2zM725 473h2v1h-2zM764 473h2v1h-2zM164 474h2v1h-2zM228 474h2v1h-2zM484 474h2v1h-2zM515 474h2v1h-2zM727 474h3v1h-3zM762 474h2v1h-2zM166 475h2v1h-2zM225 475h3v1h-3zM486 475h2v1h-2zM513 475h2v1h-2zM730 475h3v1h-3zM760 475h2v1h-2zM168 476h2v1h-2zM222 476h3v1h-3zM488 476h2v1h-2zM510 476h3v1h-3zM733 476h2v1h-2zM758 476h2v1h-2zM170 477h2v1h-2zM220 477h2v1h-2zM490 477h3v1h-3zM506 477h4v1h-4zM735 477h8v1h-8zM754 477h4v1h-4zM172 478h2v1h-2zM217 478h3v1h-3zM493 478h13v1h-13zM743 478h11v1h-11zM174 479h2v1h-2zM214 479h3v1h-3zM176 480h2v1h-2zM212 480h2v1h-2zM178 481h3v1h-3zM209 481h3v1h-3zM181 482h4v1h-4zM204 482h5v1h-5zM185 483h19v1h-19z" fill="#ff0000" shape-rendering="crispEdges"/>
<path d="M303 511h1v1h-1zM302 512h1v1h-1zM304 512h1v1h-1zM326 512h1v1h-1zM287 513h1v1h-1zM302 513h1v1h-1zM304 513h1v1h-1zM319 513h7v1h-7zM327 513h2v1h-2zM866 513h1v1h-1zM286 514h1v1h-1zM288 514h2v1h-2zM301 514h1v1h-1zM305 514h1v1h-1zM317 514h2v1h-2zM329 514h2v1h-2zM838 514h2v1h-2zM864 514h2v1h-2zM867 514h2v1h-2zM280 515h2v1h-2zM284 515h2v1h-2zM290 515h1v1h-1zM301 515h1v1h-1zM305 515h1v1h-1zM314 515h3v1h-3zM331 515h1v1h-1zM834 515h4v1h-4zM840 515h1v1h-1zM862 515h2v1h-2zM869 515h2v1h-2zM874 515h2v1h-2zM251 516h1v1h-1zM278 516h2v1h-2zM282 516h2v1h-2zM291 516h2v1h-2zM300 516h1v1h-1zM306 516h1v1h-1zM311 516h3v1h-3zM332 516h1v1h-1zM382 516h2v1h-2zM821 516h5v1h-5zM830 516h4v1h-4zM841 516h1v1h-1zM860 516h2v1h-2zM871 516h3v1h-3zM876 516h1v1h-1zM250 517h1v1h-1zM252 517h1v1h-1zM271 517h3v1h-3zM276 517h2v1h-2zM293 517h2v1h-2zM300 517h1v1h-1zM306 517h1v1h-1zM309 517h2v1h-2zM332 517h1v1h-1zM363 517h1v1h-1zM379 517h3v1h-3zM384 517h2v1h-2zM819 517h2v1h-2zM826 517h4v1h-4zM842 517h1v1h-1zM858 517h2v1h-2zM876 517h1v1h-1zM74 518h2v1h-2zM250 518h1v1h-1zM253 518h1v1h-1zM269 518h2v1h-2zM274 518h2v1h-2zM295 518h5v1h-5zM307 518h2v1h-2zM333 518h1v1h-1zM362 518h1v1h-1zM364 518h2v1h-2zM377 518h2v1h-2zM386 518h2v1h-2zM519 518h1v1h-1zM818 518h1v1h-1zM843 518h1v1h-1zM856 518h2v1h-2zM877 518h1v1h-1zM70 519h4v1h-4zM76 519h2v1h-2zM249 519h1v1h-1zM254 519h1v1h-1zM268 519h1v1h-1zM334 519h1v1h-1zM360 519h2v1h-2zM366 519h2v1h-2zM375 519h2v1h-2zM388 519h1v1h-1zM517 519h2v1h-2zM520 519h2v1h-2zM651 519h1v1h-1zM816 519h2v1h-2zM844 519h1v1h-1zM854 519h2v1h-2zM878 519h1v1h-1zM66 520h4v1h-4zM78 520h2v1h-2zM249 520h1v1h-1zM255 520h2v1h-2zM267 520h1v1h-1zM334 520h1v1h-1zM359 520h1v1h-1zM368 520h1v1h-1zM374 520h1v1h-1zM389 520h1v1h-1zM515 520h2v1h-2zM522 520h2v1h-2zM611 520h1v1h-1zM650 520h1v1h-1zM652 520h1v1h-1zM814 520h2v1h-2zM844 520h1v1h-1zM852 520h2v1h-2zM878 520h1v1h-1zM63 521h3v1h-3zM79 521h1v1h-1zM248 521h1v1h-1zM257 521h3v1h-3zM266 521h1v1h-1zM335 521h1v1h-1zM358 521h1v1h-1zM369 521h1v1h-1zM373 521h1v1h-1zM389 521h1v1h-1zM514 521h1v1h-1zM524 521h1v1h-1zM610 521h2v1h-2zM650 521h1v1h-1zM652 521h1v1h-1zM807 521h7v1h-7zM845 521h1v1h-1zM851 521h1v1h-1zM879 521h1v1h-1zM31 522h1v1h-1zM62 522h1v1h-1zM80 522h1v1h-1zM247 522h1v1h-1zM260 522h1v1h-1zM265 522h1v1h-1zM335 522h1v1h-1zM357 522h1v1h-1zM369 522h1v1h-1zM373 522h1v1h-1zM390 522h1v1h-1zM514 522h1v1h-1zM525 522h1v1h-1zM543 522h2v1h-2zM602 522h2v1h-2zM610 522h1v1h-1zM612 522h1v1h-1zM649 522h1v1h-1zM653 522h1v1h-1zM807 522h1v1h-1zM845 522h1v1h-1zM850 522h1v1h-1zM880 522h2v1h-2zM30 523h1v1h-1zM32 523h2v1h-2zM51 523h1v1h-1zM61 523h1v1h-1zM80 523h1v1h-1zM103 523h1v1h-1zM247 523h1v1h-1zM261 523h2v1h-2zM264 523h1v1h-1zM336 523h1v1h-1zM357 523h1v1h-1zM370 523h1v1h-1zM372 523h1v1h-1zM391 523h2v1h-2zM513 523h1v1h-1zM526 523h1v1h-1zM542 523h1v1h-1zM545 523h3v1h-3zM592 523h10v1h-10zM604 523h1v1h-1zM609 523h1v1h-1zM612 523h1v1h-1zM648 523h1v1h-1zM654 523h1v1h-1zM806 523h1v1h-1zM846 523h1v1h-1zM849 523h1v1h-1zM882 523h1v1h-1zM28 524h2v1h-2zM34 524h3v1h-3zM42 524h2v1h-2zM50 524h1v1h-1zM52 524h1v1h-1zM60 524h1v1h-1zM81 524h1v1h-1zM102 524h1v1h-1zM104 524h1v1h-1zM246 524h1v1h-1zM263 524h1v1h-1zM336 524h1v1h-1zM350 524h3v1h-3zM356 524h1v1h-1zM371 524h1v1h-1zM393 524h2v1h-2zM512 524h1v1h-1zM527 524h2v1h-2zM541 524h1v1h-1zM548 524h1v1h-1zM566 524h2v1h-2zM591 524h1v1h-1zM605 524h1v1h-1zM608 524h1v1h-1zM613 524h1v1h-1zM647 524h1v1h-1zM654 524h1v1h-1zM671 524h1v1h-1zM767 524h5v1h-5zM806 524h1v1h-1zM846 524h1v1h-1zM849 524h1v1h-1zM883 524h2v1h-2zM27 525h1v1h-1zM37 525h5v1h-5zM44 525h2v1h-2zM48 525h2v1h-2zM52 525h1v1h-1zM59 525h1v1h-1zM81 525h1v1h-1zM101 525h1v1h-1zM105 525h1v1h-1zM245 525h1v1h-1zM337 525h1v1h-1zM348 525h2v1h-2zM353 525h3v1h-3zM395 525h2v1h-2zM512 525h1v1h-1zM529 525h2v1h-2zM541 525h1v1h-1zM548 525h1v1h-1zM563 525h3v1h-3zM568 525h2v1h-2zM574 525h3v1h-3zM589 525h2v1h-2zM606 525h1v1h-1zM608 525h1v1h-1zM613 525h1v1h-1zM646 525h1v1h-1zM655 525h1v1h-1zM670 525h1v1h-1zM672 525h1v1h-1zM766 525h1v1h-1zM772 525h1v1h-1zM805 525h1v1h-1zM847 525h2v1h-2zM885 525h1v1h-1zM895 525h1v1h-1zM27 526h1v1h-1zM46 526h2v1h-2zM53 526h1v1h-1zM58 526h1v1h-1zM82 526h1v1h-1zM101 526h1v1h-1zM105 526h1v1h-1zM230 526h4v1h-4zM245 526h1v1h-1zM337 526h1v1h-1zM347 526h1v1h-1zM397 526h8v1h-8zM411 526h1v1h-1zM511 526h1v1h-1zM531 526h2v1h-2zM540 526h1v1h-1zM549 526h1v1h-1zM555 526h1v1h-1zM562 526h1v1h-1zM570 526h4v1h-4zM577 526h3v1h-3zM588 526h1v1h-1zM607 526h1v1h-1zM614 526h1v1h-1zM619 526h1v1h-1zM645 526h1v1h-1zM656 526h2v1h-2zM669 526h1v1h-1zM673 526h2v1h-2zM765 526h1v1h-1zM772 526h1v1h-1zM786 526h3v1h-3zM805 526h1v1h-1zM847 526h1v1h-1zM886 526h1v1h-1zM894 526h1v1h-1zM896 526h1v1h-1zM26 527h1v1h-1zM54 527h1v1h-1zM57 527h1v1h-1zM82 527h1v1h-1zM100 527h1v1h-1zM106 527h1v1h-1zM227 527h3v1h-3zM234 527h5v1h-5zM244 527h1v1h-1zM338 527h1v1h-1zM346 527h1v1h-1zM405 527h2v1h-2zM409 527h2v1h-2zM412 527h1v1h-1zM510 527h1v1h-1zM533 527h7v1h-7zM550 527h1v1h-1zM554 527h1v1h-1zM556 527h2v1h-2zM560 527h2v1h-2zM580 527h2v1h-2zM586 527h2v1h-2zM614 527h1v1h-1zM618 527h1v1h-1zM620 527h1v1h-1zM640 527h2v1h-2zM644 527h1v1h-1zM658 527h2v1h-2zM669 527h1v1h-1zM675 527h1v1h-1zM764 527h1v1h-1zM773 527h1v1h-1zM779 527h7v1h-7zM789 527h2v1h-2zM794 527h2v1h-2zM804 527h1v1h-1zM887 527h1v1h-1zM893 527h1v1h-1zM897 527h1v1h-1zM903 527h1v1h-1zM3 528h5v1h-5zM26 528h1v1h-1zM54 528h1v1h-1zM56 528h1v1h-1zM83 528h1v1h-1zM99 528h1v1h-1zM107 528h1v1h-1zM227 528h1v1h-1zM239 528h3v1h-3zM244 528h1v1h-1zM338 528h1v1h-1zM345 528h1v1h-1zM407 528h2v1h-2zM413 528h2v1h-2zM440 528h1v1h-1zM503 528h2v1h-2zM508 528h2v1h-2zM550 528h1v1h-1zM552 528h2v1h-2zM558 528h2v1h-2zM582 528h4v1h-4zM615 528h3v1h-3zM620 528h1v1h-1zM627 528h1v1h-1zM639 528h1v1h-1zM642 528h2v1h-2zM660 528h2v1h-2zM668 528h1v1h-1zM676 528h1v1h-1zM754 528h2v1h-2zM763 528h1v1h-1zM774 528h1v1h-1zM778 528h1v1h-1zM791 528h3v1h-3zM796 528h1v1h-1zM804 528h1v1h-1zM888 528h2v1h-2zM893 528h1v1h-1zM898 528h1v1h-1zM901 528h2v1h-2zM904 528h2v1h-2zM8 529h1v1h-1zM25 529h1v1h-1zM55 529h1v1h-1zM83 529h7v1h-7zM98 529h1v1h-1zM108 529h1v1h-1zM226 529h1v1h-1zM242 529h2v1h-2zM339 529h1v1h-1zM344 529h1v1h-1zM415 529h1v1h-1zM431 529h1v1h-1zM439 529h1v1h-1zM441 529h2v1h-2zM502 529h1v1h-1zM505 529h3v1h-3zM551 529h1v1h-1zM615 529h1v1h-1zM621 529h1v1h-1zM626 529h1v1h-1zM628 529h1v1h-1zM637 529h2v1h-2zM662 529h6v1h-6zM677 529h1v1h-1zM751 529h3v1h-3zM756 529h2v1h-2zM761 529h2v1h-2zM774 529h1v1h-1zM776 529h2v1h-2zM796 529h1v1h-1zM803 529h1v1h-1zM890 529h1v1h-1zM892 529h1v1h-1zM899 529h2v1h-2zM906 529h2v1h-2zM915 529h5v1h-5zM9 530h2v1h-2zM25 530h1v1h-1zM90 530h2v1h-2zM97 530h1v1h-1zM109 530h2v1h-2zM226 530h1v1h-1zM339 530h5v1h-5zM416 530h2v1h-2zM430 530h1v1h-1zM432 530h1v1h-1zM437 530h2v1h-2zM443 530h2v1h-2zM501 530h1v1h-1zM622 530h1v1h-1zM625 530h1v1h-1zM629 530h1v1h-1zM636 530h1v1h-1zM678 530h1v1h-1zM751 530h1v1h-1zM758 530h3v1h-3zM775 530h1v1h-1zM797 530h1v1h-1zM803 530h1v1h-1zM891 530h1v1h-1zM908 530h2v1h-2zM913 530h2v1h-2zM920 530h2v1h-2zM11 531h1v1h-1zM24 531h1v1h-1zM92 531h2v1h-2zM96 531h1v1h-1zM111 531h6v1h-6zM225 531h1v1h-1zM418 531h2v1h-2zM430 531h1v1h-1zM433 531h2v1h-2zM436 531h1v1h-1zM445 531h1v1h-1zM501 531h1v1h-1zM622 531h1v1h-1zM624 531h1v1h-1zM629 531h1v1h-1zM635 531h1v1h-1zM679 531h1v1h-1zM750 531h1v1h-1zM797 531h1v1h-1zM802 531h1v1h-1zM910 531h3v1h-3zM922 531h1v1h-1zM12 532h1v1h-1zM24 532h1v1h-1zM94 532h2v1h-2zM117 532h2v1h-2zM219 532h1v1h-1zM225 532h1v1h-1zM420 532h1v1h-1zM429 532h1v1h-1zM435 532h1v1h-1zM445 532h1v1h-1zM495 532h2v1h-2zM500 532h1v1h-1zM623 532h1v1h-1zM630 532h1v1h-1zM633 532h2v1h-2zM680 532h1v1h-1zM750 532h1v1h-1zM798 532h1v1h-1zM802 532h1v1h-1zM13 533h2v1h-2zM17 533h7v1h-7zM119 533h5v1h-5zM218 533h1v1h-1zM220 533h1v1h-1zM224 533h1v1h-1zM420 533h1v1h-1zM429 533h1v1h-1zM446 533h1v1h-1zM453 533h2v1h-2zM494 533h1v1h-1zM497 533h3v1h-3zM631 533h2v1h-2zM681 533h2v1h-2zM749 533h1v1h-1zM798 533h1v1h-1zM801 533h1v1h-1zM15 534h2v1h-2zM124 534h5v1h-5zM217 534h1v1h-1zM221 534h2v1h-2zM224 534h1v1h-1zM421 534h1v1h-1zM428 534h1v1h-1zM446 534h1v1h-1zM449 534h4v1h-4zM455 534h1v1h-1zM494 534h1v1h-1zM683 534h2v1h-2zM749 534h1v1h-1zM799 534h1v1h-1zM801 534h1v1h-1zM129 535h1v1h-1zM210 535h3v1h-3zM216 535h1v1h-1zM223 535h1v1h-1zM422 535h1v1h-1zM428 535h1v1h-1zM447 535h2v1h-2zM456 535h2v1h-2zM493 535h1v1h-1zM685 535h9v1h-9zM738 535h3v1h-3zM748 535h1v1h-1zM799 535h2v1h-2zM130 536h1v1h-1zM208 536h2v1h-2zM213 536h3v1h-3zM422 536h1v1h-1zM426 536h2v1h-2zM458 536h1v1h-1zM472 536h2v1h-2zM492 536h1v1h-1zM694 536h9v1h-9zM734 536h4v1h-4zM741 536h2v1h-2zM748 536h1v1h-1zM800 536h1v1h-1zM131 537h2v1h-2zM194 537h3v1h-3zM207 537h1v1h-1zM423 537h3v1h-3zM459 537h1v1h-1zM471 537h1v1h-1zM474 537h4v1h-4zM492 537h1v1h-1zM703 537h2v1h-2zM719 537h2v1h-2zM731 537h3v1h-3zM743 537h5v1h-5zM133 538h1v1h-1zM138 538h9v1h-9zM192 538h2v1h-2zM197 538h2v1h-2zM206 538h1v1h-1zM460 538h2v1h-2zM469 538h2v1h-2zM478 538h4v1h-4zM485 538h7v1h-7zM705 538h2v1h-2zM718 538h1v1h-1zM721 538h4v1h-4zM729 538h2v1h-2zM134 539h1v1h-1zM136 539h2v1h-2zM147 539h2v1h-2zM189 539h3v1h-3zM199 539h3v1h-3zM204 539h2v1h-2zM462 539h2v1h-2zM468 539h1v1h-1zM482 539h3v1h-3zM707 539h2v1h-2zM716 539h2v1h-2zM725 539h4v1h-4zM135 540h1v1h-1zM149 540h2v1h-2zM179 540h10v1h-10zM202 540h2v1h-2zM464 540h4v1h-4zM709 540h2v1h-2zM714 540h2v1h-2zM151 541h2v1h-2zM178 541h1v1h-1zM711 541h3v1h-3zM153 542h1v1h-1zM178 542h1v1h-1zM154 543h2v1h-2zM159 543h11v1h-11zM177 543h1v1h-1zM156 544h3v1h-3zM170 544h3v1h-3zM176 544h1v1h-1zM173 545h2v1h-2zM176 545h1v1h-1zM175 546h1v1h-1z" fill="#1e90ff" shape-rendering="crispEdges"/>
</g>
<g shape-rendering="crispEdges">
<rect x="1166" y="49" width="2" height="1" fill="#000000"/>
<rect x="1166" y="82" width="2" height="1" fill="#000000"/>
<rect x="1166" y="115" width="2" height="1" fill="#000000"/>
<rect x="1166" y="148" width="2" height="1" fill="#000000"/>
<rect x="1166" y="214" width="2" height="1" fill="#000000"/>
<rect x="1166" y="280" width="2" height="1" fill="#000000"/>
<rect x="1166" y="346" width="2" height="1" fill="#000000"/>
<rect x="1166" y="379" width="2" height="1" fill="#000000"/>
<rect x="1166" y="412" width="2" height="1" fill="#000000"/>
<rect x="1166" y="419" width="1" height="1" fill="#000000"/>
<rect x="1166" y="456" width="1" height="1" fill="#000000"/>
<rect x="1166" y="488" width="1" height="1" fill="#000000"/>
<rect x="1166" y="493" width="1" height="1" fill="#000000"/>
<rect x="1166" y="564" width="1" height="1" fill="#000000"/>
<rect x="3" y="566" width="1" height="3" fill="#000000"/>
<rect x="67" y="566" width="1" height="3" fill="#000000"/>
<rect x="131" y="566" width="1" height="3" fill="#000000"/>
<rect x="195" y="566" width="1" height="3" fill="#000000"/>
<rect x="259" y="566" width="1" height="3" fill="#000000"/>
<rect x="323" y="566" width="1" height="3" fill="#000000"/>
<rect x="387" y="566" width="1" height="3" fill="#000000"/>
<rect x="451" y="566" width="1" height="3" fill="#000000"/>
<rect x="515" y="566" width="1" height="3" fill="#000000"/>
<rect x="579" y="566" width="1" height="3" fill="#000000"/>
<rect x="643" y="566" width="1" height="3" fill="#000000"/>
<rect x="707" y="566" width="1" height="3" fill="#000000"/>
<rect x="771" y="566" width="1" height="3" fill="#000000"/>
<rect x="835" y="566" width="1" height="3" fill="#000000"/>
<rect x="899" y="566" width="1" height="3" fill="#000000"/>
</g>
<text x="1171.2" y="52.3" font-size="9.4" fill="#000" textLength="31.8" lengthAdjust="spacingAndGlyphs">1.30630</text>
<text x="1171.2" y="85.3" font-size="9.4" fill="#000" textLength="31.8" lengthAdjust="spacingAndGlyphs">1.29910</text>
<text x="1171.2" y="118.3" font-size="9.4" fill="#000" textLength="31.8" lengthAdjust="spacingAndGlyphs">1.29190</text>
<text x="1171.2" y="151.3" font-size="9.4" fill="#000" textLength="31.8" lengthAdjust="spacingAndGlyphs">1.28470</text>
<text x="1171.2" y="217.3" font-size="9.4" fill="#000" textLength="31.8" lengthAdjust="spacingAndGlyphs">1.27030</text>
<text x="1171.2" y="283.3" font-size="9.4" fill="#000" textLength="31.8" lengthAdjust="spacingAndGlyphs">1.25610</text>
<text x="1171.2" y="349.3" font-size="9.4" fill="#000" textLength="31.8" lengthAdjust="spacingAndGlyphs">1.24170</text>
<text x="1171.2" y="382.3" font-size="9.4" fill="#000" textLength="31.8" lengthAdjust="spacingAndGlyphs">1.23450</text>
<text x="1171.2" y="415.3" font-size="9.4" fill="#000" textLength="31.8" lengthAdjust="spacingAndGlyphs">1.22730</text>
<text x="1171.2" y="316.3" font-size="9.4" fill="#000" textLength="31.8" lengthAdjust="spacingAndGlyphs">1.24890</text>
<g shape-rendering="crispEdges">
<rect x="1166" y="313" width="1" height="1" fill="#000000"/>
<rect x="1167" y="178" width="38" height="11" fill="#000000"/>
</g>
<text x="1171.2" y="186.7" font-size="9.4" fill="#fff" textLength="31.8" lengthAdjust="spacingAndGlyphs">1.27719</text>
<g shape-rendering="crispEdges">
<rect x="1167" y="57" width="38" height="11" fill="#ff0000"/>
</g>
<text x="1171.2" y="65.7" font-size="9.4" fill="#fff" textLength="31.8" lengthAdjust="spacingAndGlyphs">1.30328</text>
<g shape-rendering="crispEdges">
<rect x="1167" y="122" width="38" height="11" fill="#ff0000"/>
</g>
<text x="1171.2" y="130.7" font-size="9.4" fill="#fff" textLength="31.8" lengthAdjust="spacingAndGlyphs">1.28912</text>
<g shape-rendering="crispEdges">
<rect x="1167" y="186" width="38" height="11" fill="#00ff00"/>
</g>
<text x="1171.2" y="194.7" font-size="9.4" fill="#fff" textLength="31.8" lengthAdjust="spacingAndGlyphs">1.27515</text>
<g shape-rendering="crispEdges">
<rect x="1167" y="242" width="38" height="11" fill="#0000ff"/>
</g>
<text x="1171.2" y="250.7" font-size="9.4" fill="#fff" textLength="31.8" lengthAdjust="spacingAndGlyphs">1.26303</text>
<g shape-rendering="crispEdges">
<rect x="1167" y="311" width="38" height="11" fill="#0000ff"/>
</g>
<text x="1171.2" y="319.7" font-size="9.4" fill="#fff" textLength="31.8" lengthAdjust="spacingAndGlyphs">1.24800</text>
<g shape-rendering="crispEdges">
<rect x="1167" y="384" width="38" height="11" fill="#0000ff"/>
</g>
<text x="1171.2" y="392.7" font-size="9.4" fill="#fff" textLength="31.8" lengthAdjust="spacingAndGlyphs">1.23203</text>
<text x="1168.8" y="427.7" font-size="9.4" fill="#000" textLength="36.8" lengthAdjust="spacingAndGlyphs">0.010578</text>
<text x="1168.8" y="459.6" font-size="9.4" fill="#000" textLength="17.8" lengthAdjust="spacingAndGlyphs">0.00</text>
<text x="1168.8" y="485.7" font-size="9.4" fill="#000" textLength="36.6" lengthAdjust="spacingAndGlyphs">-0.00896</text>
<text x="1168.8" y="501.7" font-size="9.4" fill="#000" textLength="14.8" lengthAdjust="spacingAndGlyphs">100</text>
<text x="1168.4" y="517.7" font-size="9.4" fill="#000" textLength="10" lengthAdjust="spacingAndGlyphs">70</text>
<text x="1168.4" y="546.7" font-size="9.4" fill="#000" textLength="10" lengthAdjust="spacingAndGlyphs">30</text>
<text x="1168.8" y="561.6" font-size="9.4" fill="#000" textLength="5" lengthAdjust="spacingAndGlyphs">0</text>
<polygon points="5.8,31 13.2,31 9.5,35" fill="#000"/>
<text x="18.4" y="35.7" font-size="9.4" fill="#000" textLength="68" lengthAdjust="spacingAndGlyphs">USDCAD-,Daily</text>
<text x="93" y="35.7" font-size="9.4" fill="#000" textLength="32.6" lengthAdjust="spacingAndGlyphs">1.28182</text>
<text x="129" y="35.7" font-size="9.4" fill="#000" textLength="32.6" lengthAdjust="spacingAndGlyphs">1.28473</text>
<text x="165" y="35.7" font-size="9.4" fill="#000" textLength="32.6" lengthAdjust="spacingAndGlyphs">1.27671</text>
<text x="201" y="35.7" font-size="9.4" fill="#000" textLength="32.8" lengthAdjust="spacingAndGlyphs">1.27719</text>
<text x="7.7" y="429.6" font-size="9.4" fill="#000" textLength="147" lengthAdjust="spacingAndGlyphs">MACD(12,26,9) 0.000852 0.003280</text>
<text x="7.3" y="503.8" font-size="9.4" fill="#000" textLength="67.7" lengthAdjust="spacingAndGlyphs">RSI(14) 45.5153</text>
<text x="2.2" y="578" font-size="9.4" fill="#000" textLength="52" lengthAdjust="spacingAndGlyphs">31 Aug 2021</text>
<text x="66.6" y="578" font-size="9.4" fill="#000" textLength="50.7" lengthAdjust="spacingAndGlyphs">19 Sep 2021</text>
<text x="130.7" y="578" font-size="9.4" fill="#000" textLength="44.6" lengthAdjust="spacingAndGlyphs">7 Oct 2021</text>
<text x="194.5" y="578" font-size="9.4" fill="#000" textLength="50" lengthAdjust="spacingAndGlyphs">26 Oct 2021</text>
<text x="258.9" y="578" font-size="9.4" fill="#000" textLength="52.6" lengthAdjust="spacingAndGlyphs">14 Nov 2021</text>
<text x="322.7" y="578" font-size="9.4" fill="#000" textLength="46.1" lengthAdjust="spacingAndGlyphs">2 Dec 2021</text>
<text x="386.6" y="578" font-size="9.4" fill="#000" textLength="50.7" lengthAdjust="spacingAndGlyphs">21 Dec 2021</text>
<text x="450.7" y="578" font-size="9.4" fill="#000" textLength="44.1" lengthAdjust="spacingAndGlyphs">9 Jan 2022</text>
<text x="514.5" y="578" font-size="9.4" fill="#000" textLength="49.3" lengthAdjust="spacingAndGlyphs">27 Jan 2022</text>
<text x="578.9" y="578" font-size="9.4" fill="#000" textLength="51.1" lengthAdjust="spacingAndGlyphs">15 Feb 2022</text>
<text x="642.7" y="578" font-size="9.4" fill="#000" textLength="46.1" lengthAdjust="spacingAndGlyphs">6 Mar 2022</text>
<text x="706.6" y="578" font-size="9.4" fill="#000" textLength="50.7" lengthAdjust="spacingAndGlyphs">24 Mar 2022</text>
<text x="770.7" y="578" font-size="9.4" fill="#000" textLength="50.1" lengthAdjust="spacingAndGlyphs">12 Apr 2022</text>
<text x="835" y="578" font-size="9.4" fill="#000" textLength="48.8" lengthAdjust="spacingAndGlyphs">1 May 2022</text>
<text x="898.9" y="578" font-size="9.4" fill="#000" textLength="54" lengthAdjust="spacingAndGlyphs">19 May 2022</text>
<text x="-1.5" y="12" font-size="9.4" fill="#3c3c3c" textLength="5" lengthAdjust="spacingAndGlyphs">5</text>
<text x="14.6" y="12" font-size="9.4" fill="#3c3c3c" textLength="17.3" lengthAdjust="spacingAndGlyphs">M30</text>
<text x="45.6" y="12" font-size="9.4" fill="#3c3c3c" textLength="11.7" lengthAdjust="spacingAndGlyphs">H1</text>
<text x="72.5" y="12" font-size="9.4" fill="#3c3c3c" textLength="13" lengthAdjust="spacingAndGlyphs">H4</text>
<text x="101.5" y="12" font-size="9.4" fill="#3c3c3c" textLength="11.5" lengthAdjust="spacingAndGlyphs">D1</text>
<text x="129" y="12" font-size="9.4" fill="#3c3c3c" textLength="13.7" lengthAdjust="spacingAndGlyphs">W1</text>
<text x="155.5" y="12" font-size="9.4" fill="#3c3c3c" textLength="14.6" lengthAdjust="spacingAndGlyphs">MN</text>
<g shape-rendering="crispEdges">
<rect x="0" y="586" width="1205" height="1" fill="#ececec"/>
<rect x="0" y="588" width="1205" height="1" fill="#000000"/>
<rect x="0" y="589" width="1205" height="1" fill="#ffffff"/>
<rect x="0" y="590" width="1205" height="18" fill="#f0f0f0"/>
<rect x="0" y="608" width="1205" height="1" fill="#ffffff"/>
<rect x="0" y="609" width="1205" height="3" fill="#f4f4f4"/>
<rect x="429" y="588" width="106" height="18" fill="#ffffff"/>
<rect x="428" y="588" width="1" height="19" fill="#000000"/>
<rect x="535" y="588" width="1" height="19" fill="#000000"/>
<rect x="428" y="606" width="108" height="1" fill="#000000"/>
<rect x="104" y="591" width="1" height="14" fill="#8a8a8a"/>
<rect x="212" y="591" width="1" height="14" fill="#8a8a8a"/>
<rect x="320" y="591" width="1" height="14" fill="#8a8a8a"/>
<rect x="648" y="591" width="1" height="14" fill="#8a8a8a"/>
<rect x="744" y="591" width="1" height="14" fill="#8a8a8a"/>
<rect x="836" y="591" width="1" height="14" fill="#8a8a8a"/>
<rect x="936" y="591" width="1" height="14" fill="#8a8a8a"/>
<rect x="1020" y="591" width="1" height="14" fill="#8a8a8a"/>
<rect x="1112" y="591" width="1" height="14" fill="#8a8a8a"/>
</g>
<text x="15.4" y="602.6" font-size="12" fill="#707070" textLength="77.2" lengthAdjust="spacingAndGlyphs">USDX,Weekly</text>
<text x="115" y="602.6" font-size="12" fill="#707070" textLength="84.7" lengthAdjust="spacingAndGlyphs">EURUSD-,Daily</text>
<text x="222.3" y="602.6" font-size="12" fill="#707070" textLength="86.4" lengthAdjust="spacingAndGlyphs">AUDUSD-,Daily</text>
<text x="332.3" y="602.6" font-size="12" fill="#707070" textLength="83.4" lengthAdjust="spacingAndGlyphs">USDCHF-,Daily</text>
<text x="439.2" y="602.6" font-size="12" fill="#000" textLength="85.6" lengthAdjust="spacingAndGlyphs">USDCAD-,Daily</text>
<text x="548.9" y="602.6" font-size="12" fill="#707070" textLength="87.1" lengthAdjust="spacingAndGlyphs">USDCNH-,Daily</text>
<text x="659.2" y="602.6" font-size="12" fill="#707070" textLength="73.2" lengthAdjust="spacingAndGlyphs">XAUUSD-,H4</text>
<text x="755.5" y="602.6" font-size="12" fill="#707070" textLength="68" lengthAdjust="spacingAndGlyphs">UKOil-,Daily</text>
<text x="847.6" y="602.6" font-size="12" fill="#707070" textLength="77.4" lengthAdjust="spacingAndGlyphs">DJ30-,Weekly</text>
<text x="947.3" y="602.6" font-size="12" fill="#707070" textLength="60.9" lengthAdjust="spacingAndGlyphs">UK100-,H1</text>
<text x="1032.6" y="602.6" font-size="12" fill="#707070" textLength="67" lengthAdjust="spacingAndGlyphs">USOil-,Daily</text>
<text x="1122.4" y="602.6" font-size="12" fill="#707070" textLength="52.9" lengthAdjust="spacingAndGlyphs">HK50-,H1</text>
<polygon points="1180.8,597 1184,593.8 1184,600.2" fill="#808080"/>
<polygon points="1200,593.8 1200,600.2 1203.4,597" fill="#000"/>
</svg></body></html>
